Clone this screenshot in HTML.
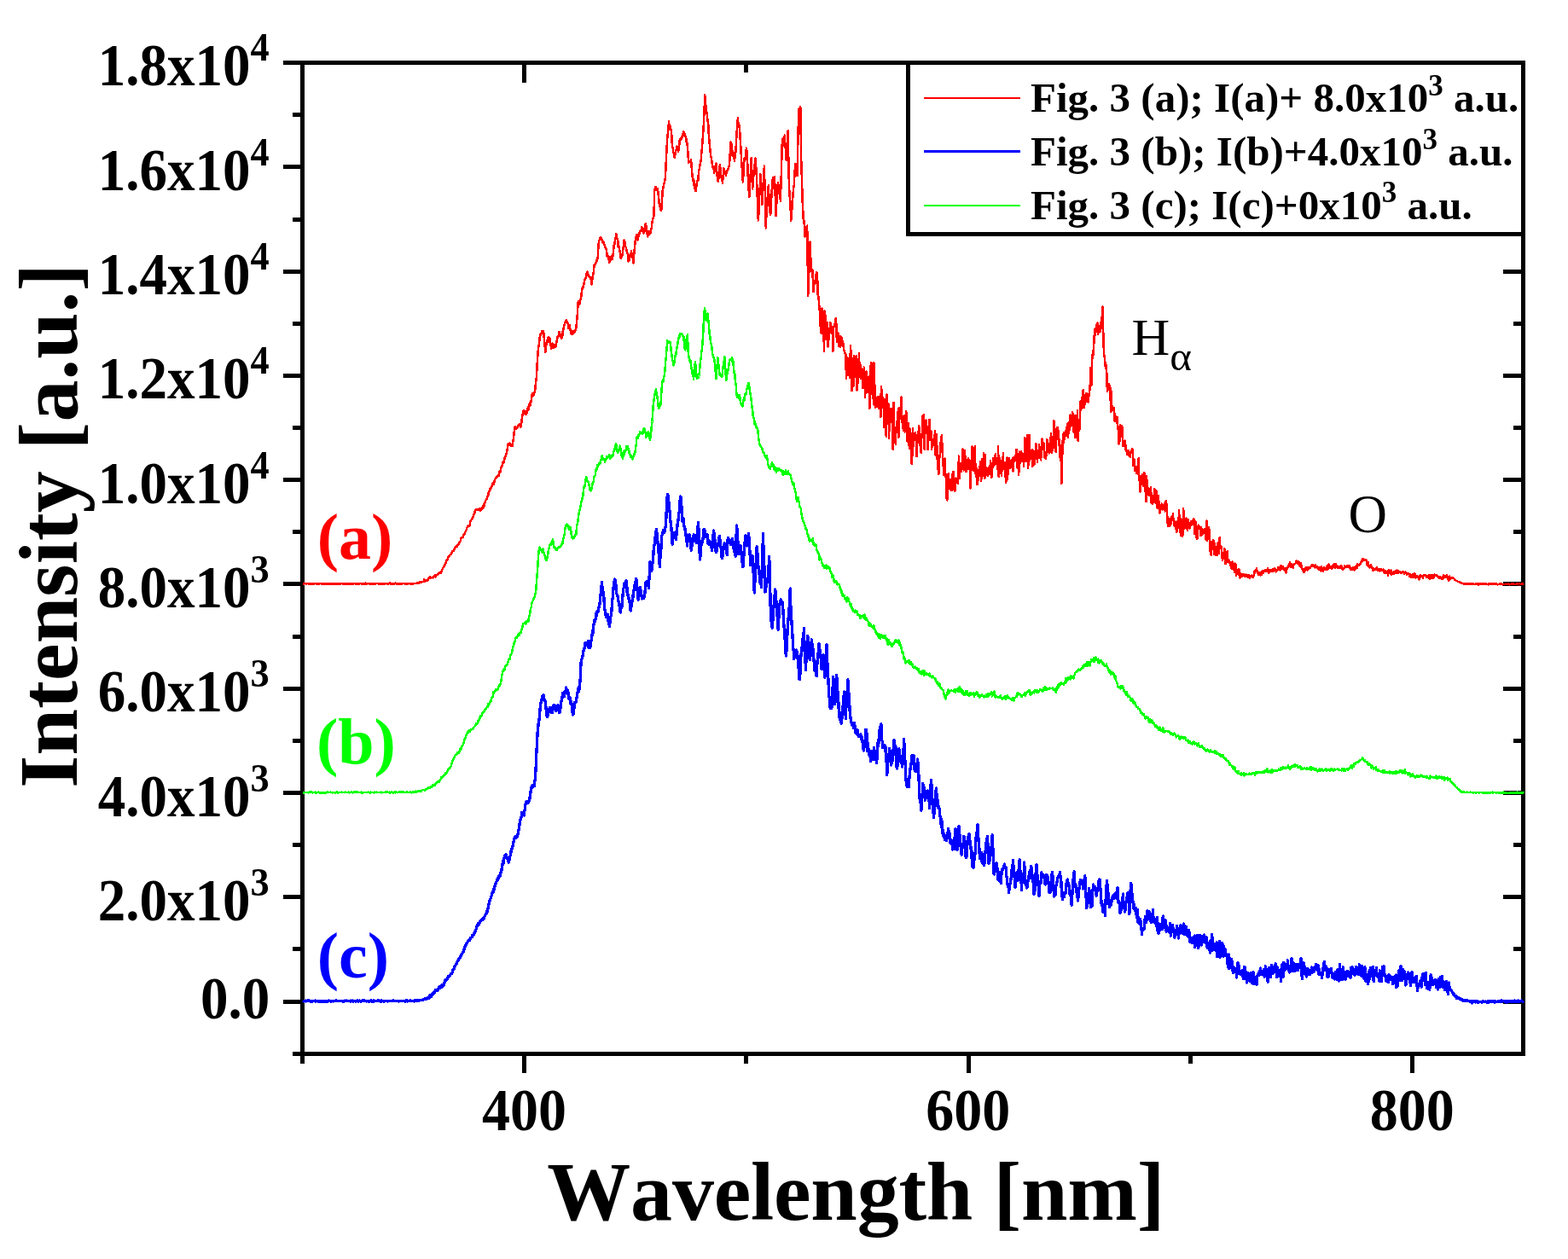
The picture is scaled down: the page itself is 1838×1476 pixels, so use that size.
<!DOCTYPE html>
<html lang="en"><head><meta charset="utf-8"><title>Emission spectra</title>
<style>html,body{margin:0;padding:0;background:#fff;}body{width:1838px;height:1476px;overflow:hidden;}svg{display:block;}text{font-family:"Liberation Serif","DejaVu Serif",serif;font-weight:bold;fill:#000;font-kerning:none;font-variant-ligatures:none;}.r{font-weight:normal;}</style></head><body>
<svg width="1838" height="1476" viewBox="0 0 1838 1476">
<rect x="0" y="0" width="1838" height="1476" fill="#fff"/>
<g fill="#000" shape-rendering="crispEdges">
<rect x="352" y="71" width="1436" height="5"/>
<rect x="352" y="1233" width="1436" height="5"/>
<rect x="352" y="71" width="5" height="1167"/>
<rect x="1783" y="71" width="5" height="1167"/>
<rect x="343" y="1233" width="9" height="5"/>
<rect x="332" y="1172" width="20" height="5"/>
<rect x="1762" y="1172" width="21" height="5"/>
<rect x="343" y="1110" width="9" height="5"/>
<rect x="1774" y="1110" width="9" height="5"/>
<rect x="332" y="1049" width="20" height="5"/>
<rect x="1762" y="1049" width="21" height="5"/>
<rect x="343" y="988" width="9" height="5"/>
<rect x="1774" y="988" width="9" height="5"/>
<rect x="332" y="927" width="20" height="5"/>
<rect x="1762" y="927" width="21" height="5"/>
<rect x="343" y="866" width="9" height="5"/>
<rect x="1774" y="866" width="9" height="5"/>
<rect x="332" y="805" width="20" height="5"/>
<rect x="1762" y="805" width="21" height="5"/>
<rect x="343" y="744" width="9" height="5"/>
<rect x="1774" y="744" width="9" height="5"/>
<rect x="332" y="682" width="20" height="5"/>
<rect x="1762" y="682" width="21" height="5"/>
<rect x="343" y="621" width="9" height="5"/>
<rect x="1774" y="621" width="9" height="5"/>
<rect x="332" y="560" width="20" height="5"/>
<rect x="1762" y="560" width="21" height="5"/>
<rect x="343" y="499" width="9" height="5"/>
<rect x="1774" y="499" width="9" height="5"/>
<rect x="332" y="438" width="20" height="5"/>
<rect x="1762" y="438" width="21" height="5"/>
<rect x="343" y="377" width="9" height="5"/>
<rect x="1774" y="377" width="9" height="5"/>
<rect x="332" y="316" width="20" height="5"/>
<rect x="1762" y="316" width="21" height="5"/>
<rect x="343" y="255" width="9" height="5"/>
<rect x="332" y="193" width="20" height="5"/>
<rect x="343" y="132" width="9" height="5"/>
<rect x="332" y="71" width="20" height="5"/>
<rect x="352" y="1238" width="5" height="9"/>
<rect x="612" y="1238" width="5" height="20"/>
<rect x="612" y="76" width="5" height="21"/>
<rect x="872" y="1238" width="5" height="9"/>
<rect x="872" y="76" width="5" height="9"/>
<rect x="1133" y="1238" width="5" height="20"/>
<rect x="1393" y="1238" width="5" height="9"/>
<rect x="1653" y="1238" width="5" height="20"/>
</g>
<g fill="none" stroke-linejoin="round" stroke-linecap="butt" shape-rendering="crispEdges">
<path d="M355.0,1173.3 355.9,1173.7 356.3,1173.9 356.9,1173.5 357.6,1173.3 358.2,1173.1 358.9,1173.9 359.5,1173.6 360.2,1173.5 360.8,1173.3 361.5,1172.8 362.1,1173.7 362.8,1173.4 363.4,1173.7 364.1,1174.2 364.7,1173.6 365.4,1173.6 366.0,1174.0 366.7,1173.6 367.3,1173.7 368.0,1173.3 368.6,1173.4 369.3,1173.1 369.9,1174.0 370.6,1174.1 371.2,1173.5 371.9,1173.6 372.5,1173.5 373.2,1174.6 373.8,1174.0 374.5,1173.6 375.1,1173.9 375.8,1174.2 376.4,1173.3 377.1,1173.9 377.7,1173.9 378.4,1173.7 379.0,1174.0 379.7,1174.1 380.3,1173.7 381.0,1173.6 381.6,1174.0 382.3,1173.7 382.9,1173.8 383.6,1174.4 384.2,1173.8 384.9,1173.7 385.5,1173.2 386.2,1173.8 386.8,1173.8 387.5,1173.9 388.1,1173.9 388.8,1173.9 389.4,1173.8 390.1,1173.7 390.7,1173.9 391.4,1173.4 392.0,1173.3 392.7,1173.3 393.3,1173.7 394.0,1173.0 394.6,1173.5 395.3,1173.6 395.9,1173.8 396.6,1173.3 397.2,1173.7 397.9,1173.7 398.5,1173.5 399.2,1173.7 399.8,1173.6 400.5,1173.3 401.1,1173.5 401.8,1173.3 402.4,1174.3 403.1,1173.5 403.7,1173.4 404.4,1173.1 405.0,1173.6 405.7,1173.7 406.3,1173.6 407.0,1173.1 407.6,1173.3 408.3,1173.2 408.9,1173.7 409.6,1173.3 410.2,1173.6 410.9,1174.2 411.5,1173.0 412.2,1173.5 412.8,1173.6 413.5,1173.1 414.1,1174.0 414.8,1173.5 415.4,1173.7 416.1,1173.8 416.7,1174.1 417.4,1173.4 418.0,1173.4 418.7,1173.1 419.3,1173.1 420.0,1174.2 420.6,1173.4 421.3,1173.0 421.9,1173.8 422.6,1174.2 423.2,1173.2 423.9,1173.5 424.5,1173.1 425.2,1172.9 425.8,1173.5 426.5,1173.1 427.1,1173.1 427.8,1173.6 428.4,1173.7 429.1,1173.5 429.7,1174.0 430.4,1173.3 431.0,1173.4 431.7,1173.8 432.3,1174.3 433.0,1174.2 433.6,1173.9 434.3,1173.6 434.9,1173.1 435.6,1174.0 436.2,1173.5 436.9,1174.3 437.5,1173.5 438.2,1172.8 438.8,1173.9 439.5,1173.6 440.1,1173.3 440.8,1173.6 441.4,1173.5 442.1,1173.6 442.7,1172.9 443.4,1173.5 444.0,1173.7 444.7,1173.1 445.3,1173.9 446.0,1173.4 446.6,1172.8 447.3,1174.1 447.9,1173.4 448.6,1173.5 449.2,1173.4 449.9,1174.2 450.5,1173.5 451.2,1173.2 451.8,1173.3 452.5,1173.7 453.1,1173.7 453.8,1173.2 454.4,1173.8 455.1,1173.2 455.7,1173.5 456.4,1173.7 457.0,1173.6 457.7,1173.6 458.3,1173.6 459.0,1173.3 459.6,1173.5 460.3,1173.6 460.9,1173.0 461.6,1172.9 462.2,1173.6 462.9,1173.4 463.5,1173.5 464.2,1173.7 464.8,1173.6 465.5,1173.3 466.1,1173.6 466.8,1173.2 467.4,1174.0 468.1,1173.8 468.7,1173.4 469.4,1173.2 470.0,1173.6 470.7,1173.4 471.3,1173.2 472.0,1173.6 472.6,1173.5 473.3,1173.7 473.9,1173.4 474.6,1174.1 475.2,1174.0 475.9,1172.9 476.5,1172.7 477.2,1173.1 477.8,1173.9 478.5,1173.6 479.1,1173.4 479.8,1173.5 480.4,1173.0 481.1,1173.5 481.7,1173.0 482.4,1173.5 483.0,1173.3 483.7,1173.2 484.3,1173.2 485.1,1173.4 485.6,1174.0 486.3,1172.6 486.9,1173.4 487.6,1172.9 488.2,1173.5 488.9,1173.3 489.5,1172.5 490.2,1172.8 490.8,1173.2 491.5,1173.2 492.1,1172.3 493.0,1172.3 493.4,1172.4 494.1,1172.6 494.7,1172.3 495.4,1172.1 496.0,1172.1 496.7,1171.9 497.3,1171.4 498.0,1170.5 498.6,1171.6 499.3,1171.2 499.9,1171.4 500.8,1170.4 501.2,1169.7 501.9,1170.2 502.5,1169.8 503.2,1170.1 503.8,1167.1 504.5,1167.3 505.1,1167.0 505.8,1168.4 506.7,1165.3 507.1,1166.4 507.7,1164.4 508.4,1163.6 509.0,1164.6 509.7,1163.9 510.3,1160.6 511.0,1161.2 511.6,1161.6 512.3,1160.6 512.9,1161.4 513.6,1159.2 514.5,1159.0 514.9,1157.0 515.5,1158.5 516.2,1157.4 516.8,1157.4 517.5,1155.6 518.1,1156.9 518.8,1154.3 519.4,1155.6 520.1,1155.0 520.4,1152.9 520.7,1152.8 521.4,1151.1 522.0,1149.1 522.7,1150.0 523.3,1148.5 524.0,1148.5 524.6,1147.7 525.3,1144.9 525.9,1144.5 526.6,1144.4 527.2,1144.1 527.9,1142.9 528.5,1141.5 529.2,1141.3 529.8,1141.3 530.2,1140.1 530.5,1138.6 531.1,1137.0 531.8,1135.9 532.4,1135.8 533.1,1132.8 533.7,1132.1 534.1,1131.0 535.0,1130.1 535.7,1128.3 536.3,1127.0 537.0,1126.0 537.6,1124.7 538.3,1123.4 539.0,1123.0 539.6,1122.5 540.2,1120.2 540.9,1118.8 541.5,1118.3 542.2,1117.2 542.9,1116.2 543.5,1114.7 544.1,1113.0 544.8,1110.0 545.4,1109.3 546.1,1107.7 546.8,1106.0 547.4,1105.7 548.0,1104.5 548.7,1102.9 549.3,1103.0 550.0,1102.6 550.6,1102.7 551.3,1099.9 551.7,1099.2 552.6,1098.9 553.2,1098.8 553.9,1096.3 554.5,1096.4 555.2,1095.0 555.8,1095.1 556.6,1093.2 557.1,1091.7 557.8,1090.0 558.4,1088.3 559.1,1085.6 559.7,1084.7 560.6,1082.3 561.0,1084.5 561.7,1083.2 562.3,1080.1 563.0,1079.6 563.6,1080.0 564.3,1078.2 564.9,1077.5 565.5,1078.1 566.2,1078.0 566.9,1076.3 567.5,1076.6 568.2,1073.9 568.8,1072.8 569.5,1071.5 570.3,1070.7 570.8,1068.0 571.4,1068.3 572.1,1065.0 572.7,1061.1 573.4,1058.8 574.3,1054.8 574.7,1054.9 575.3,1052.3 576.0,1050.6 576.6,1048.8 577.3,1045.7 578.2,1045.2 578.6,1046.1 579.2,1041.1 579.9,1039.1 580.5,1038.0 581.2,1035.1 582.1,1033.2 582.5,1031.5 583.1,1030.8 583.8,1031.1 584.4,1027.1 585.1,1027.3 586.0,1027.2 586.4,1026.2 587.0,1022.4 588.0,1020.1 588.3,1016.3 589.0,1013.9 589.6,1009.1 590.3,1011.7 590.9,1005.8 591.6,1005.0 592.2,1002.2 592.9,1001.6 593.5,1005.2 594.2,1006.0 594.8,1005.9 595.5,1008.8 596.4,1011.3 596.8,1009.5 597.4,1005.4 598.1,1003.5 598.7,1000.7 599.4,995.0 599.7,995.6 600.0,994.6 600.7,994.3 601.3,990.2 602.0,987.0 602.7,983.4 603.3,982.8 603.9,980.8 604.6,982.3 605.2,980.7 605.9,981.9 606.6,980.2 607.2,976.9 607.8,973.8 608.5,971.1 609.1,966.0 609.5,964.3 610.4,959.1 611.1,958.6 611.5,952.5 612.4,952.6 613.0,954.8 613.7,953.0 614.4,956.0 615.0,949.8 615.6,946.0 616.4,940.9 616.9,939.6 617.6,941.0 618.2,940.0 618.9,941.0 619.5,940.1 620.3,938.9 620.8,936.6 621.5,932.6 622.1,928.1 622.8,924.3 623.2,921.9 624.1,920.6 624.7,923.0 625.4,921.7 626.2,921.7 626.7,917.5 627.3,913.0 628.1,901.4 628.6,887.5 629.1,878.8 630.1,858.6 630.6,854.7 631.2,847.5 632.0,843.6 632.5,838.4 633.2,829.5 634.0,823.9 634.5,822.1 635.1,819.7 635.8,816.4 636.4,820.6 636.9,814.7 637.7,820.2 638.4,820.2 639.0,822.1 639.9,828.4 640.3,832.8 641.0,838.4 641.4,840.7 642.3,837.9 642.9,834.8 643.8,830.7 644.2,830.0 644.9,832.2 645.5,834.3 646.2,829.6 646.7,835.5 647.5,835.3 648.1,831.0 648.8,828.0 649.3,826.2 650.1,831.0 650.7,827.5 651.6,833.6 652.0,831.5 652.7,829.0 653.3,832.1 654.0,826.9 654.6,827.5 655.3,831.9 655.9,835.9 656.5,834.8 657.2,827.7 657.9,821.8 658.5,821.5 659.5,812.8 659.8,814.4 660.5,815.3 661.1,816.8 661.8,810.9 662.4,812.9 663.1,811.4 663.7,806.0 664.4,810.3 665.0,809.2 665.7,809.0 666.3,816.1 667.0,818.7 667.3,819.7 667.6,817.7 668.3,818.3 668.9,825.6 669.7,822.7 670.2,827.2 670.9,835.1 671.6,838.1 672.2,837.2 672.8,831.5 673.5,823.8 674.2,824.4 674.8,823.9 675.4,821.0 676.1,817.6 676.7,813.3 677.1,812.0 677.4,807.2 678.0,807.6 678.7,810.7 679.3,802.9 680.0,799.5 680.6,789.6 681.0,776.9 681.9,772.8 682.6,770.7 683.2,768.6 683.9,762.9 684.5,762.8 685.2,759.4 685.8,754.0 686.5,755.5 686.9,753.4 687.8,753.4 688.4,754.3 689.1,758.1 689.7,751.5 690.4,759.2 691.0,758.6 691.8,759.3 692.3,754.9 693.0,750.9 693.6,749.0 694.3,741.4 694.9,742.6 695.6,732.3 696.2,731.9 696.7,727.8 697.5,728.9 698.2,725.3 698.8,718.9 699.5,721.3 700.1,716.8 700.8,717.8 701.4,715.1 702.1,711.7 702.6,711.4 703.4,704.3 704.0,697.6 704.7,691.0 705.5,682.7 706.0,688.7 706.6,691.8 707.3,694.9 707.9,700.7 708.6,713.3 709.4,716.0 709.9,718.6 710.4,723.6 711.2,721.9 711.8,721.2 712.3,720.4 713.1,728.4 713.8,729.5 714.3,734.8 715.1,728.7 715.7,723.0 716.4,721.3 716.8,717.2 717.7,704.0 718.3,700.2 718.8,692.8 719.6,682.6 720.3,686.3 720.7,679.1 721.6,680.5 722.2,691.8 722.7,695.4 723.5,697.9 724.2,699.2 725.0,705.3 725.5,708.2 726.1,710.3 726.8,717.1 727.6,718.0 728.1,708.9 728.7,712.7 729.4,709.4 729.9,699.3 730.7,690.6 731.5,687.7 732.0,684.0 732.6,685.9 733.3,684.8 733.9,680.6 734.6,683.6 735.2,695.4 735.9,696.9 736.8,701.8 737.2,701.0 737.8,706.3 738.5,703.8 739.1,716.0 739.7,712.5 740.4,710.1 741.1,703.4 741.7,701.8 742.7,692.8 743.0,691.3 743.7,691.6 744.3,684.1 745.0,682.1 745.6,678.5 746.2,680.3 746.9,690.9 747.6,695.5 748.2,703.5 748.9,697.0 749.5,689.2 750.1,688.2 750.8,691.2 751.5,697.4 752.1,699.0 752.5,702.0 752.8,698.5 753.4,701.4 754.1,699.0 754.7,701.5 755.4,697.2 756.0,695.2 756.7,683.6 757.3,686.4 758.0,681.3 758.6,684.8 759.3,685.3 759.9,683.0 760.3,689.3 761.2,674.4 761.9,658.4 762.5,663.7 763.2,662.7 763.8,669.4 764.2,664.8 765.1,659.8 765.8,652.2 766.4,641.1 767.2,638.0 767.7,636.0 768.4,626.3 769.0,622.6 769.5,620.6 770.3,628.2 771.0,635.8 771.7,642.3 772.3,650.9 772.9,657.2 773.4,664.8 774.2,648.1 774.9,643.6 775.6,628.1 776.2,627.4 776.8,623.9 777.5,625.0 777.9,621.1 778.8,624.8 779.4,619.9 780.3,617.0 780.7,610.6 781.4,595.8 781.8,583.6 782.7,579.3 783.0,581.8 783.3,585.4 784.0,588.3 784.8,597.7 785.3,601.5 785.9,610.9 786.7,616.6 787.2,622.8 788.1,638.1 788.5,634.3 789.2,625.9 790.1,625.0 790.5,627.7 791.1,630.2 791.8,629.6 792.6,632.3 793.1,622.9 793.7,620.1 794.4,610.8 795.0,609.9 795.6,603.0 796.3,599.8 797.0,587.4 797.9,582.0 798.3,589.3 798.9,593.7 799.9,607.2 800.2,611.8 800.9,607.7 801.5,614.8 802.4,618.5 802.8,620.9 803.5,620.1 804.1,629.1 804.8,628.8 805.4,639.9 806.1,634.4 806.7,632.7 807.4,628.0 808.3,626.7 808.7,628.0 809.3,635.9 810.3,645.1 810.6,641.6 811.3,638.6 811.9,635.3 812.6,631.8 813.2,626.6 813.9,629.5 814.5,630.7 815.2,628.5 816.1,635.6 816.5,636.4 817.1,627.0 817.8,619.9 818.5,612.6 819.1,623.9 819.7,640.2 820.6,656.0 821.0,651.6 821.7,642.1 822.3,634.9 823.0,634.0 823.6,635.5 824.3,628.6 824.9,620.8 825.3,620.6 826.2,622.6 826.9,627.4 827.5,629.6 828.2,630.0 828.9,626.7 829.5,633.7 830.1,637.3 830.8,633.7 831.4,638.7 831.8,638.8 832.1,634.8 832.7,636.1 833.4,640.4 834.0,641.9 834.7,645.6 835.3,635.4 836.0,628.2 836.7,622.1 837.3,631.4 837.9,632.5 838.6,642.1 839.2,647.2 839.6,647.6 840.5,644.4 841.2,638.2 841.8,637.1 842.5,635.5 843.1,630.0 843.5,628.4 844.4,636.9 845.1,641.8 845.7,652.7 846.5,654.4 847.0,651.8 847.7,643.9 848.3,640.7 849.0,637.3 849.4,636.8 850.3,639.0 850.9,642.6 851.6,647.6 852.4,650.5 852.9,636.0 853.3,630.3 854.2,633.1 854.8,632.6 855.5,634.4 856.3,638.6 856.8,636.3 857.4,635.1 858.1,635.9 858.7,631.2 859.2,639.3 860.0,643.4 860.7,646.5 861.3,641.3 862.2,652.3 862.6,638.4 863.3,623.9 863.7,616.0 864.6,633.1 865.2,636.5 865.7,649.4 866.5,646.1 867.2,642.9 868.0,639.3 868.5,644.6 869.1,650.0 869.8,653.8 870.4,664.2 871.0,664.3 871.7,654.2 872.4,641.6 873.0,637.6 873.9,627.7 874.3,636.0 875.0,632.2 875.9,640.0 876.3,633.2 876.9,628.3 877.4,625.7 878.2,632.4 878.9,645.9 879.8,662.8 880.2,660.1 880.8,660.5 881.5,658.3 882.1,651.6 882.7,655.8 883.4,679.5 884.3,694.9 884.7,685.8 885.4,671.8 886.0,663.8 886.7,647.4 887.2,640.6 888.0,649.5 888.6,660.0 889.6,672.8 889.9,670.5 890.6,671.1 891.2,683.9 891.9,684.2 892.5,688.7 893.2,667.0 893.8,649.8 894.5,625.8 895.1,648.9 895.8,661.2 896.4,680.2 897.0,694.0 897.7,688.8 898.4,687.9 899.0,683.2 899.4,679.4 899.7,678.1 900.3,678.9 901.0,664.8 901.7,652.5 902.3,671.5 902.9,697.7 903.3,716.5 903.6,716.1 904.2,729.2 904.9,729.5 905.2,736.2 905.5,731.1 906.2,724.0 906.8,713.3 907.5,705.1 908.1,698.1 908.8,691.1 909.4,700.2 910.1,705.8 910.7,715.6 911.4,726.8 912.1,738.1 912.7,726.9 913.3,717.0 914.1,707.4 914.6,704.6 915.3,702.9 915.9,707.0 916.6,707.5 917.0,705.3 917.9,714.6 918.5,727.3 919.0,733.9 919.8,741.5 920.5,756.8 921.3,769.0 921.8,764.5 922.4,756.2 923.1,738.6 923.9,726.8 924.4,722.2 925.0,713.8 925.7,706.2 926.2,690.0 927.0,715.5 927.6,721.7 928.4,737.3 928.9,743.4 929.6,757.6 930.2,762.7 930.7,772.7 931.5,768.4 932.2,769.5 932.8,763.4 933.5,762.0 934.1,765.0 934.6,764.5 935.4,776.7 936.1,783.5 936.7,786.5 937.2,796.8 938.0,790.0 938.7,771.6 939.5,762.3 940.0,759.9 940.6,752.4 941.3,747.6 941.9,745.1 942.5,736.6 943.2,765.2 943.9,768.8 944.4,785.3 945.2,771.0 945.8,755.0 946.8,745.4 947.1,751.1 947.8,758.5 948.4,768.9 949.3,773.7 949.7,771.6 950.4,765.3 951.3,749.7 951.7,752.0 952.3,762.8 953.0,760.8 953.6,768.4 954.2,776.4 954.9,786.0 955.6,787.0 956.2,788.0 957.1,792.9 957.5,784.6 958.2,773.5 958.8,771.0 959.5,759.4 960.1,754.4 960.8,760.6 961.4,768.3 962.1,771.2 963.0,784.9 963.4,784.7 964.0,776.7 965.0,767.4 965.3,773.3 966.0,784.2 966.9,794.1 967.3,781.4 967.9,775.4 968.6,769.2 968.9,755.4 969.2,765.8 969.9,777.6 970.5,787.1 971.2,803.8 971.8,816.2 972.5,818.3 973.1,830.2 973.8,826.0 974.4,829.0 974.8,830.5 975.1,825.6 975.7,819.6 976.4,798.9 976.7,793.4 977.0,797.3 977.7,806.2 978.3,815.1 978.7,825.6 979.0,822.7 979.6,799.8 980.3,797.0 980.7,791.5 981.6,809.2 982.2,810.8 982.9,823.9 983.6,841.1 984.2,834.9 984.8,843.4 985.5,842.2 986.1,848.1 986.5,847.8 987.4,836.2 988.1,827.4 988.7,820.8 989.5,811.0 990.0,813.9 990.7,832.4 991.4,842.6 992.0,826.5 992.6,817.0 993.3,809.1 993.8,796.7 994.6,810.6 995.2,813.8 995.9,827.7 996.3,837.0 997.2,842.8 997.8,846.3 998.5,849.7 999.3,848.0 999.8,848.9 1000.4,853.2 1001.1,850.5 1001.7,847.7 1002.4,857.6 1003.0,859.2 1003.7,858.5 1004.3,860.1 1005.0,855.5 1005.6,861.8 1006.3,861.2 1006.9,863.8 1007.6,861.6 1008.2,863.1 1008.9,860.8 1009.4,867.1 1010.2,864.4 1010.8,866.1 1011.5,874.7 1012.3,880.0 1012.8,873.5 1013.4,876.3 1014.1,868.5 1014.7,855.3 1015.3,855.4 1016.0,860.5 1016.7,880.7 1017.3,871.4 1018.2,881.0 1018.6,884.2 1019.3,886.3 1019.9,884.0 1020.6,892.2 1021.2,880.3 1022.1,890.1 1022.5,882.9 1023.2,890.8 1023.8,886.9 1024.7,876.8 1025.1,881.3 1025.8,881.0 1026.4,884.3 1027.4,894.5 1027.7,881.1 1028.4,889.8 1029.0,870.8 1029.9,871.3 1030.3,863.7 1031.0,856.7 1031.6,851.9 1032.3,852.8 1032.9,848.8 1033.6,868.0 1034.2,869.0 1034.8,876.5 1035.5,873.6 1036.2,873.7 1036.8,877.2 1037.8,874.0 1038.1,881.4 1038.8,882.8 1039.7,908.7 1040.1,903.6 1040.7,896.9 1041.4,884.4 1042.0,887.7 1042.7,877.8 1043.3,884.1 1044.0,889.1 1044.6,897.0 1045.3,893.6 1045.6,891.1 1045.9,893.0 1046.6,879.7 1047.2,878.7 1047.9,867.4 1048.6,869.2 1049.2,884.2 1049.8,874.4 1050.5,888.3 1051.1,899.3 1051.5,900.9 1051.8,898.7 1052.4,897.1 1053.1,892.5 1053.7,877.9 1054.4,880.2 1055.0,887.0 1055.7,892.2 1056.3,889.6 1057.0,894.1 1057.4,899.1 1058.3,894.6 1058.9,882.7 1059.7,866.6 1060.2,882.0 1060.9,892.1 1061.5,903.3 1061.9,914.7 1062.2,913.1 1062.8,919.6 1063.5,922.8 1064.1,914.7 1064.8,921.2 1065.2,922.5 1066.1,909.8 1066.7,903.5 1067.4,899.2 1068.1,894.9 1068.7,885.8 1069.3,892.4 1070.0,886.3 1070.6,889.4 1071.1,885.4 1071.9,902.6 1072.6,895.7 1073.2,904.8 1073.6,903.1 1074.5,903.5 1075.2,897.4 1075.6,889.9 1076.5,900.2 1077.1,914.4 1077.5,924.6 1078.4,940.7 1079.1,938.7 1079.9,950.1 1080.4,939.0 1081.0,933.2 1081.8,918.6 1082.3,920.7 1083.0,924.7 1083.6,923.7 1084.3,938.2 1084.8,937.4 1085.6,930.9 1086.2,927.3 1086.9,929.5 1087.7,927.1 1088.2,931.3 1088.8,934.6 1089.7,947.4 1090.1,937.5 1090.8,924.1 1091.6,914.2 1092.1,923.5 1092.7,934.5 1093.4,941.1 1094.0,951.2 1094.6,958.3 1095.3,950.1 1096.0,945.2 1096.6,930.5 1097.5,923.9 1097.9,931.4 1098.6,934.4 1099.2,940.0 1099.9,947.1 1100.5,944.8 1101.2,949.3 1101.8,956.4 1102.4,958.0 1103.1,966.7 1103.8,960.3 1104.4,976.7 1105.1,972.6 1105.7,979.7 1106.4,977.5 1107.3,984.1 1107.7,979.5 1108.3,982.8 1109.0,983.3 1109.6,985.2 1110.3,980.8 1110.9,978.0 1111.6,971.4 1112.2,975.3 1112.9,976.4 1113.5,979.8 1114.2,988.8 1115.1,984.6 1115.5,988.0 1116.1,990.2 1116.8,995.9 1117.4,991.6 1118.1,995.8 1118.7,987.0 1119.4,978.8 1120.0,971.8 1120.7,975.7 1121.3,985.3 1122.0,996.1 1122.6,978.8 1123.3,981.3 1124.0,968.1 1124.6,972.0 1125.2,985.4 1125.9,988.4 1126.5,999.4 1127.2,1002.0 1127.8,995.0 1128.5,993.1 1129.1,992.0 1129.8,980.4 1130.4,983.4 1131.1,985.7 1131.7,1003.6 1132.4,987.6 1132.8,1005.5 1133.7,991.2 1134.3,989.2 1135.0,981.6 1135.7,977.8 1136.3,978.5 1136.9,985.3 1137.6,989.6 1138.2,995.6 1138.7,992.9 1139.5,1015.8 1140.2,1004.9 1141.0,1017.7 1141.5,1016.1 1142.1,1004.3 1142.8,1002.1 1143.5,995.6 1144.1,981.4 1144.7,980.2 1145.4,972.4 1146.1,966.3 1146.7,982.3 1147.3,983.3 1148.0,997.2 1148.4,1006.6 1149.3,1000.0 1149.9,1005.1 1150.8,999.5 1151.2,1011.5 1151.9,1001.2 1152.5,1010.4 1153.3,1014.5 1153.8,1013.0 1154.5,1005.1 1155.1,998.4 1155.8,987.8 1156.4,990.5 1157.3,980.2 1157.7,984.7 1158.4,1001.0 1159.0,1012.4 1159.8,1011.6 1160.3,997.8 1161.0,999.1 1161.6,996.0 1162.3,990.9 1163.1,978.9 1163.6,986.3 1164.2,1005.0 1165.1,1025.0 1165.5,1020.3 1166.2,1021.8 1166.8,1015.3 1167.5,1014.1 1168.0,1011.5 1168.8,1021.1 1169.4,1017.8 1170.0,1031.5 1170.7,1027.9 1171.4,1033.0 1172.0,1023.0 1172.7,1027.2 1173.3,1035.3 1173.9,1025.4 1174.6,1019.2 1175.3,1019.7 1175.9,1017.7 1176.6,1016.8 1177.4,1013.1 1177.9,1017.7 1178.5,1016.2 1179.2,1017.5 1179.8,1026.4 1180.5,1031.7 1181.1,1037.3 1181.8,1037.1 1182.7,1046.8 1183.1,1039.1 1183.7,1037.1 1184.4,1035.9 1185.3,1028.1 1185.7,1026.4 1186.3,1017.6 1187.0,1015.6 1187.6,1008.6 1188.3,1024.5 1188.9,1025.8 1189.6,1034.8 1190.0,1040.8 1190.9,1031.9 1191.5,1033.2 1192.2,1022.1 1192.5,1032.7 1192.9,1032.5 1193.5,1024.8 1194.2,1018.9 1195.1,1008.0 1195.5,1019.4 1196.1,1020.4 1196.8,1024.4 1197.4,1043.6 1197.8,1036.2 1198.7,1028.9 1199.4,1033.6 1200.0,1028.2 1200.3,1019.4 1200.7,1011.0 1201.3,1026.7 1202.0,1036.7 1202.6,1038.1 1203.3,1038.1 1203.9,1041.0 1204.6,1037.3 1205.2,1030.4 1205.9,1027.6 1206.2,1025.6 1207.2,1020.9 1207.8,1029.3 1208.5,1015.6 1209.2,1017.4 1209.8,1025.1 1210.4,1029.8 1211.1,1034.0 1211.7,1045.0 1212.1,1048.3 1213.0,1044.0 1213.7,1024.3 1214.3,1026.4 1215.0,1013.9 1215.6,1021.5 1216.3,1032.7 1216.9,1036.9 1217.6,1041.1 1218.0,1050.3 1218.9,1033.6 1219.5,1034.7 1220.2,1035.5 1220.8,1022.9 1221.3,1024.2 1222.1,1024.5 1222.8,1028.7 1223.4,1029.1 1224.1,1028.3 1224.8,1035.5 1225.4,1037.0 1226.0,1025.5 1226.7,1027.6 1227.2,1025.6 1228.0,1027.5 1228.6,1035.8 1229.3,1034.2 1229.9,1046.3 1230.7,1039.1 1231.2,1046.0 1231.9,1044.4 1232.5,1031.9 1233.2,1023.5 1233.6,1022.4 1234.5,1036.8 1235.1,1038.1 1235.6,1051.0 1236.4,1048.3 1237.1,1049.0 1237.7,1038.9 1238.4,1037.9 1239.0,1034.2 1239.5,1032.2 1240.3,1027.1 1241.0,1027.6 1241.6,1027.5 1242.5,1022.5 1242.9,1027.0 1243.6,1027.6 1244.2,1041.3 1244.9,1048.6 1245.4,1054.5 1246.2,1046.7 1246.8,1048.2 1247.5,1051.3 1248.3,1046.5 1248.8,1047.0 1249.4,1046.5 1250.1,1036.0 1250.7,1033.5 1251.3,1031.0 1252.0,1035.0 1252.7,1037.1 1253.3,1038.1 1254.2,1049.3 1254.6,1044.2 1255.3,1048.3 1256.2,1061.4 1256.6,1050.7 1257.2,1046.0 1257.9,1032.9 1258.5,1027.1 1259.2,1021.7 1259.8,1039.8 1260.5,1036.6 1261.1,1037.9 1261.7,1042.7 1262.4,1048.0 1263.1,1052.1 1263.7,1056.1 1264.0,1050.8 1264.4,1048.3 1265.0,1041.4 1265.7,1037.0 1266.4,1031.6 1267.0,1036.4 1267.6,1036.7 1268.3,1032.4 1268.9,1033.2 1269.6,1042.0 1269.9,1038.5 1270.2,1034.4 1270.9,1033.1 1271.5,1027.2 1271.8,1027.0 1272.2,1035.0 1272.8,1044.6 1273.5,1061.0 1273.8,1064.7 1274.1,1058.5 1274.8,1060.1 1275.4,1058.2 1276.1,1050.5 1276.7,1041.5 1277.4,1046.9 1278.0,1059.4 1278.7,1063.4 1279.3,1052.3 1280.0,1062.1 1280.6,1045.3 1281.3,1041.7 1281.6,1036.9 1282.6,1041.0 1283.2,1039.5 1283.9,1044.0 1284.5,1043.8 1285.2,1050.3 1285.5,1049.0 1286.5,1041.7 1287.1,1040.6 1287.8,1033.2 1288.5,1031.0 1289.1,1031.2 1289.7,1043.3 1290.4,1041.7 1291.0,1059.3 1291.4,1061.2 1292.3,1059.6 1293.0,1069.8 1293.6,1060.8 1294.3,1068.6 1294.9,1065.2 1295.3,1073.5 1296.2,1052.9 1296.9,1045.6 1297.3,1032.6 1298.2,1038.8 1298.8,1045.6 1299.5,1058.2 1300.2,1061.1 1300.8,1063.6 1301.4,1055.4 1302.1,1061.3 1302.7,1058.5 1303.2,1056.2 1304.0,1051.7 1304.7,1050.1 1305.3,1053.7 1306.0,1049.0 1306.7,1049.4 1307.3,1051.5 1307.9,1046.5 1308.6,1051.7 1309.2,1053.6 1310.0,1041.0 1310.5,1053.7 1311.2,1058.9 1311.8,1056.4 1312.5,1062.0 1313.0,1070.8 1313.8,1068.8 1314.4,1059.6 1315.1,1058.6 1315.9,1055.8 1316.4,1048.1 1317.0,1058.7 1317.7,1059.4 1318.3,1068.0 1318.8,1069.0 1319.6,1057.8 1320.3,1055.9 1320.9,1053.3 1321.8,1046.9 1322.2,1052.9 1322.9,1052.9 1323.7,1071.4 1324.2,1068.2 1324.8,1048.7 1325.7,1035.3 1326.1,1037.4 1326.8,1046.8 1327.4,1052.1 1328.1,1058.0 1328.6,1064.5 1329.4,1060.7 1330.0,1065.8 1330.7,1068.2 1331.6,1064.7 1332.0,1072.3 1332.6,1075.2 1333.3,1066.7 1333.9,1081.3 1334.6,1075.7 1335.5,1079.9 1335.9,1083.5 1336.5,1077.5 1337.2,1080.9 1337.8,1086.3 1338.5,1095.3 1339.1,1088.9 1340.0,1089.3 1340.4,1088.4 1341.1,1089.6 1341.7,1080.4 1342.4,1074.9 1343.0,1077.9 1343.7,1081.3 1344.3,1075.6 1345.0,1067.9 1345.6,1077.6 1346.3,1068.3 1346.9,1068.7 1347.6,1073.8 1348.2,1074.3 1348.9,1079.3 1349.5,1081.5 1350.2,1071.5 1350.7,1075.8 1351.5,1066.2 1352.1,1080.7 1352.8,1075.4 1353.4,1080.6 1354.1,1082.2 1354.7,1080.7 1355.4,1080.6 1356.0,1086.2 1356.7,1075.7 1357.1,1091.3 1358.0,1094.0 1358.6,1082.9 1359.3,1090.9 1359.9,1085.7 1360.6,1083.5 1361.2,1085.0 1361.9,1088.1 1362.5,1089.5 1363.2,1074.0 1363.5,1081.0 1363.8,1085.0 1364.5,1087.7 1365.1,1083.2 1365.8,1078.3 1366.4,1081.6 1367.1,1092.2 1367.7,1085.7 1368.6,1090.1 1369.0,1090.8 1369.7,1089.1 1370.3,1093.0 1371.0,1091.4 1371.6,1082.4 1372.3,1097.2 1372.9,1093.9 1373.6,1087.6 1374.2,1084.3 1375.0,1087.5 1375.5,1090.0 1376.2,1092.8 1376.8,1099.4 1377.5,1095.6 1378.1,1093.1 1378.8,1094.3 1379.4,1085.7 1380.1,1088.8 1380.7,1089.4 1381.4,1099.9 1382.0,1094.9 1382.7,1094.8 1383.3,1094.4 1384.0,1085.0 1384.6,1086.4 1385.3,1085.3 1385.9,1094.2 1386.6,1085.9 1387.2,1086.6 1387.8,1083.0 1388.5,1095.4 1389.2,1086.4 1389.8,1088.6 1390.5,1086.7 1391.1,1092.4 1391.8,1097.1 1392.4,1097.1 1393.1,1098.6 1393.7,1090.6 1394.2,1097.3 1395.0,1104.4 1395.7,1100.1 1396.3,1101.8 1397.0,1099.7 1397.6,1105.7 1398.3,1099.4 1398.9,1103.0 1399.6,1103.5 1400.2,1097.0 1400.5,1110.2 1400.9,1103.4 1401.5,1108.9 1402.2,1107.9 1402.8,1097.1 1403.5,1105.4 1404.1,1096.9 1404.8,1111.4 1405.4,1102.9 1406.1,1106.3 1406.9,1096.3 1407.4,1100.9 1408.0,1103.3 1408.7,1107.9 1409.3,1100.3 1410.0,1097.4 1410.8,1101.5 1411.3,1096.0 1411.9,1097.0 1412.6,1102.8 1413.2,1105.8 1413.9,1098.8 1414.5,1103.2 1415.2,1111.2 1415.9,1111.0 1416.5,1105.7 1417.1,1110.2 1417.8,1111.3 1418.4,1117.0 1419.1,1102.1 1419.7,1114.7 1420.4,1095.4 1421.0,1099.2 1421.7,1114.0 1422.3,1106.2 1423.0,1106.6 1423.6,1107.0 1424.3,1113.9 1424.9,1108.8 1425.6,1114.7 1426.2,1104.6 1426.9,1121.9 1427.5,1117.6 1428.2,1114.5 1428.7,1113.6 1429.5,1103.8 1430.1,1122.5 1430.8,1115.3 1431.4,1110.3 1432.1,1120.2 1432.7,1105.3 1433.4,1108.4 1434.0,1121.3 1434.7,1109.5 1435.3,1116.4 1436.0,1117.7 1436.3,1113.6 1437.3,1119.4 1437.9,1119.3 1438.6,1125.1 1439.2,1130.8 1439.9,1124.8 1440.2,1135.5 1440.5,1118.9 1441.2,1133.3 1441.8,1123.3 1442.5,1127.8 1443.1,1134.6 1443.8,1124.3 1444.4,1138.0 1445.3,1132.8 1445.7,1140.5 1446.4,1136.1 1447.0,1134.3 1447.7,1136.3 1448.3,1136.7 1449.0,1138.0 1449.6,1146.1 1450.4,1134.2 1450.9,1128.5 1451.6,1134.7 1452.2,1132.4 1452.9,1141.9 1453.5,1137.9 1454.2,1142.8 1454.8,1141.7 1455.5,1142.0 1456.1,1137.7 1456.8,1143.3 1457.4,1147.5 1458.1,1142.4 1458.7,1133.2 1459.4,1133.9 1460.0,1145.3 1460.7,1139.0 1461.3,1151.9 1462.0,1150.4 1462.6,1140.8 1463.3,1141.0 1463.9,1146.5 1464.6,1149.3 1465.2,1150.2 1465.8,1145.1 1466.5,1140.8 1467.2,1150.6 1467.8,1152.7 1468.5,1147.3 1469.1,1139.8 1469.8,1153.7 1470.4,1146.4 1471.1,1145.7 1471.7,1151.7 1472.1,1149.8 1473.0,1154.1 1473.7,1144.2 1474.3,1143.8 1475.0,1142.2 1475.6,1140.3 1476.3,1143.3 1476.9,1138.6 1477.6,1135.1 1478.2,1139.7 1478.5,1139.5 1478.9,1142.8 1479.5,1139.4 1480.2,1141.7 1480.8,1142.1 1481.5,1136.4 1482.1,1145.2 1482.8,1139.9 1483.4,1132.8 1484.1,1141.9 1484.7,1137.3 1485.4,1139.2 1486.2,1151.4 1486.7,1138.6 1487.3,1134.2 1488.0,1135.7 1488.6,1139.3 1489.3,1145.4 1489.9,1140.4 1490.6,1131.7 1491.2,1138.7 1491.9,1141.5 1492.5,1140.4 1493.2,1133.5 1493.9,1136.7 1494.5,1137.0 1495.1,1130.0 1495.8,1134.1 1496.4,1145.7 1497.1,1133.4 1497.7,1137.9 1498.4,1144.7 1499.0,1137.3 1499.7,1141.7 1500.3,1137.3 1501.0,1136.4 1501.6,1150.5 1502.3,1132.3 1502.9,1130.7 1503.6,1139.2 1504.1,1145.7 1504.9,1128.3 1505.5,1131.6 1506.2,1136.8 1506.8,1136.9 1507.5,1135.4 1508.1,1132.7 1508.8,1135.2 1509.4,1125.8 1510.1,1137.1 1510.7,1132.6 1511.4,1140.0 1511.8,1139.6 1512.7,1132.9 1513.3,1138.8 1514.0,1123.4 1514.6,1133.5 1515.3,1138.0 1515.9,1135.0 1516.6,1129.1 1517.2,1134.8 1517.9,1138.7 1518.5,1132.1 1519.2,1130.9 1519.5,1132.8 1519.8,1130.9 1520.5,1133.6 1521.1,1137.9 1521.8,1134.6 1522.4,1130.3 1523.1,1133.9 1523.7,1134.3 1524.6,1127.9 1525.0,1123.9 1525.7,1132.4 1526.3,1147.6 1527.0,1133.3 1527.6,1131.7 1528.3,1128.7 1528.9,1141.3 1529.7,1133.3 1530.2,1135.3 1530.9,1142.2 1531.5,1145.0 1532.2,1140.7 1532.8,1135.4 1533.5,1138.1 1534.1,1142.6 1534.8,1140.9 1535.4,1142.6 1536.1,1138.7 1536.7,1139.5 1537.4,1134.0 1538.0,1140.0 1538.7,1134.6 1539.3,1134.4 1540.0,1139.1 1540.6,1134.9 1541.3,1133.5 1541.9,1135.3 1542.5,1130.3 1543.2,1136.4 1543.9,1132.5 1544.5,1137.3 1545.2,1131.7 1545.8,1142.3 1546.5,1136.7 1547.1,1142.0 1547.8,1142.5 1548.4,1142.6 1548.9,1141.2 1549.7,1146.4 1550.4,1135.6 1551.0,1138.9 1551.7,1130.1 1552.3,1127.2 1553.0,1132.4 1553.6,1137.1 1554.0,1132.4 1554.9,1134.0 1555.6,1144.3 1556.2,1138.9 1556.9,1145.7 1557.5,1142.7 1558.2,1136.4 1558.8,1138.2 1559.5,1136.2 1560.4,1135.5 1560.8,1138.6 1561.4,1143.2 1562.1,1146.9 1562.7,1143.7 1563.4,1141.5 1564.0,1141.5 1564.7,1148.1 1565.3,1139.6 1566.0,1141.3 1566.6,1147.9 1567.3,1140.7 1568.0,1136.6 1568.6,1136.6 1569.2,1150.0 1569.9,1142.3 1570.5,1130.6 1571.2,1138.8 1571.8,1148.1 1572.5,1148.0 1573.2,1147.4 1573.8,1148.6 1574.4,1133.9 1575.1,1145.5 1575.7,1140.5 1576.4,1140.1 1577.0,1148.7 1577.7,1144.5 1578.3,1139.1 1579.0,1143.0 1579.6,1144.2 1580.3,1138.9 1580.9,1143.2 1581.6,1143.3 1582.2,1142.3 1582.9,1146.5 1583.5,1134.5 1584.2,1142.1 1584.7,1133.9 1585.5,1134.4 1586.1,1137.7 1586.8,1137.0 1587.4,1140.8 1588.1,1143.6 1588.7,1138.1 1589.4,1133.3 1590.0,1139.4 1590.7,1137.2 1591.1,1135.4 1592.0,1142.6 1592.6,1142.4 1593.3,1130.8 1593.9,1139.3 1594.6,1132.2 1595.2,1132.3 1595.9,1144.5 1596.5,1132.5 1597.4,1136.8 1597.8,1134.4 1598.5,1143.5 1599.1,1147.7 1599.8,1133.8 1600.4,1139.7 1601.1,1150.6 1601.7,1150.6 1602.4,1145.6 1603.0,1142.7 1603.8,1153.8 1604.3,1139.4 1605.0,1148.1 1605.6,1144.9 1606.3,1134.2 1606.9,1141.8 1607.6,1143.9 1608.2,1139.9 1608.9,1145.3 1609.5,1133.8 1610.2,1150.7 1610.8,1145.2 1611.5,1140.2 1612.1,1143.5 1612.8,1140.1 1613.4,1134.4 1614.1,1144.8 1614.7,1141.5 1615.4,1143.3 1616.0,1145.7 1616.6,1150.0 1617.3,1137.9 1618.0,1150.8 1618.6,1140.1 1619.3,1150.4 1619.9,1140.0 1620.6,1133.6 1621.2,1140.5 1621.9,1132.6 1622.5,1142.2 1623.0,1144.5 1623.8,1142.6 1624.5,1145.7 1625.1,1150.4 1625.8,1149.7 1626.4,1144.9 1627.1,1151.9 1627.7,1142.8 1628.4,1146.0 1629.0,1144.0 1629.4,1146.0 1630.3,1148.0 1631.0,1146.6 1631.6,1148.5 1632.3,1145.9 1632.9,1153.8 1633.6,1148.6 1634.2,1145.5 1634.9,1149.8 1635.5,1144.0 1635.8,1146.2 1636.2,1143.0 1636.8,1157.9 1637.5,1148.2 1638.1,1156.3 1638.8,1145.3 1639.4,1148.4 1640.1,1137.6 1640.7,1147.6 1641.4,1149.8 1642.0,1132.6 1642.7,1145.3 1643.5,1149.7 1644.0,1137.8 1644.6,1136.3 1645.3,1147.6 1645.9,1142.2 1646.6,1139.0 1647.2,1146.4 1647.9,1155.0 1648.5,1150.7 1649.2,1147.9 1649.9,1142.1 1650.5,1140.1 1651.1,1142.9 1651.8,1148.1 1652.4,1141.8 1653.1,1152.7 1653.7,1155.4 1654.4,1141.2 1655.0,1140.0 1655.7,1147.8 1656.3,1146.8 1657.0,1148.4 1657.6,1151.8 1658.3,1150.3 1658.9,1146.0 1659.6,1150.6 1660.2,1144.2 1660.9,1152.2 1661.5,1161.5 1662.2,1156.8 1662.7,1155.7 1663.5,1155.2 1664.1,1152.3 1664.8,1149.6 1665.4,1151.3 1666.1,1157.1 1666.7,1152.5 1667.4,1142.1 1667.8,1149.7 1668.7,1141.4 1669.3,1149.8 1670.0,1145.7 1670.6,1154.5 1671.3,1140.4 1671.9,1150.4 1672.6,1158.8 1673.2,1155.7 1673.9,1155.1 1674.2,1159.3 1674.5,1152.1 1675.2,1152.7 1675.8,1160.1 1676.5,1146.9 1677.1,1142.9 1677.8,1150.3 1678.4,1146.3 1679.3,1149.3 1679.7,1154.6 1680.4,1154.0 1681.0,1151.2 1681.7,1150.2 1682.3,1148.5 1683.0,1151.0 1683.6,1157.8 1684.4,1156.9 1684.9,1151.8 1685.6,1160.1 1686.2,1147.6 1686.9,1155.4 1687.5,1157.8 1688.2,1145.5 1688.8,1152.8 1689.5,1147.1 1690.1,1144.3 1690.8,1157.2 1691.4,1151.6 1692.1,1150.5 1692.7,1155.9 1693.4,1160.3 1694.0,1154.8 1694.7,1152.0 1695.3,1150.4 1695.9,1151.5 1696.6,1153.0 1697.3,1165.7 1697.9,1157.0 1698.5,1152.0 1699.2,1159.7 1699.9,1160.2 1700.5,1160.7 1701.2,1161.4 1701.8,1162.1 1702.5,1163.4 1703.1,1163.9 1703.6,1165.5 1704.4,1165.2 1705.1,1167.1 1705.7,1167.1 1706.4,1168.6 1707.0,1168.1 1707.7,1170.6 1708.3,1170.3 1708.7,1169.8 1709.6,1170.7 1710.3,1169.7 1710.9,1171.3 1711.6,1170.4 1712.2,1171.3 1712.9,1172.1 1713.5,1171.5 1714.2,1171.7 1714.8,1173.2 1715.5,1172.9 1716.4,1172.8 1716.8,1173.2 1717.4,1173.0 1718.1,1173.7 1718.7,1172.6 1719.4,1172.7 1720.0,1173.2 1720.7,1173.3 1721.3,1173.7 1722.0,1173.8 1722.6,1174.2 1723.3,1173.3 1724.0,1174.6 1724.6,1174.3 1725.2,1175.9 1725.9,1173.8 1726.5,1173.7 1727.2,1173.9 1727.8,1173.6 1728.5,1174.7 1729.1,1174.1 1729.8,1175.0 1730.4,1173.9 1731.1,1173.5 1731.7,1173.4 1732.4,1175.6 1733.0,1174.3 1733.7,1174.7 1734.3,1174.4 1735.0,1174.4 1735.6,1174.6 1736.3,1175.0 1736.9,1175.2 1737.6,1174.2 1738.2,1173.6 1738.9,1174.8 1739.5,1174.0 1740.2,1174.2 1740.8,1174.2 1741.5,1174.1 1742.1,1174.9 1742.8,1174.7 1743.4,1175.2 1744.1,1173.2 1744.7,1175.1 1745.4,1174.7 1746.0,1174.9 1746.7,1174.1 1747.3,1173.6 1748.0,1174.0 1748.6,1174.6 1749.3,1174.3 1749.9,1174.6 1750.6,1173.6 1751.2,1173.4 1751.9,1175.5 1752.5,1174.6 1753.2,1174.1 1753.8,1174.4 1754.7,1174.2 1755.1,1174.4 1755.8,1174.7 1756.4,1173.5 1757.1,1174.4 1757.7,1174.4 1758.4,1174.6 1759.0,1174.8 1759.7,1172.9 1760.3,1173.7 1761.0,1174.3 1761.6,1174.0 1762.3,1173.4 1762.9,1173.9 1763.6,1173.9 1764.2,1174.2 1764.9,1173.9 1765.5,1174.4 1766.2,1175.2 1766.8,1173.6 1767.5,1173.6 1768.1,1174.3 1768.8,1174.8 1769.4,1173.6 1770.1,1174.6 1770.7,1173.6 1771.4,1173.7 1772.0,1174.5 1772.7,1174.5 1773.3,1174.0 1774.0,1174.4 1774.6,1174.3 1775.3,1173.8 1775.9,1173.1 1776.6,1173.3 1777.2,1173.7 1777.9,1174.6 1778.5,1173.6 1779.2,1173.8 1779.8,1173.1 1780.5,1174.4 1781.1,1173.6 1781.8,1173.3 1782.4,1173.4 1783.1,1173.7 1783.7,1173.0 1784.4,1173.9 1785.0,1174.6 1785.7,1173.6 1786.0,1173.2" stroke="#00f" stroke-width="3.33"/>
<path d="M355.0,929.2 355.9,929.0 356.3,929.8 356.9,929.2 357.6,929.1 358.2,929.2 358.9,928.9 359.5,928.8 360.2,929.2 360.8,928.9 361.5,929.3 362.1,929.0 362.8,928.5 363.4,928.6 364.1,928.8 364.7,928.4 365.4,929.0 366.0,928.9 366.7,929.3 367.3,928.8 368.0,928.9 368.6,929.2 369.3,929.3 369.9,928.7 370.6,929.5 371.2,928.8 371.9,929.4 372.5,928.9 373.2,928.9 373.8,928.6 374.5,929.0 375.1,929.8 375.8,928.8 376.4,929.5 377.1,929.4 377.7,928.9 378.4,929.4 379.0,929.4 379.7,928.9 380.3,928.8 381.0,929.4 381.6,929.1 382.3,929.7 382.9,929.1 383.6,928.6 384.2,929.0 384.9,928.6 385.5,929.2 386.2,929.2 386.8,928.9 387.5,928.7 388.1,929.3 388.8,928.9 389.4,929.4 390.1,928.7 390.7,928.9 391.4,928.8 392.0,928.7 392.7,929.8 393.3,929.5 394.0,928.8 394.6,929.2 395.3,928.4 395.9,929.4 396.6,929.3 397.2,928.9 397.9,928.9 398.5,929.1 399.2,929.1 399.8,928.9 400.5,928.7 401.1,928.9 401.8,928.8 402.4,929.2 403.1,929.0 403.7,929.1 404.4,928.5 405.0,928.9 405.7,928.9 406.3,928.8 407.0,928.9 407.6,928.9 408.3,928.5 408.9,929.3 409.6,929.3 410.2,928.8 410.9,929.2 411.5,928.7 412.2,928.6 412.8,928.9 413.5,929.5 414.1,928.9 414.8,928.5 415.4,929.0 416.1,928.8 416.7,928.7 417.4,929.1 418.0,928.4 418.7,928.4 419.3,928.5 420.0,929.3 420.6,929.0 421.3,928.8 421.9,928.8 422.6,929.2 423.2,929.4 423.9,928.7 424.5,929.0 425.2,929.7 425.8,929.2 426.5,928.9 427.1,929.1 427.8,929.0 428.4,929.2 429.1,929.1 429.7,928.8 430.4,928.9 431.0,929.1 431.7,928.7 432.3,929.0 433.0,928.7 433.6,929.3 434.3,929.4 434.9,928.7 435.6,929.2 436.2,929.0 436.9,929.0 437.5,928.9 438.2,929.0 438.8,929.3 439.5,928.6 440.1,929.3 440.8,928.9 441.4,928.6 442.1,928.9 442.7,929.1 443.4,928.9 444.0,929.0 444.7,928.8 445.3,928.8 446.0,929.3 446.6,928.6 447.3,929.3 447.9,929.0 448.6,928.9 449.2,928.9 449.9,928.8 450.5,928.9 451.2,928.9 451.8,928.9 452.5,928.3 453.1,928.3 453.8,929.0 454.4,928.7 455.1,928.8 455.7,928.9 456.4,928.6 457.0,929.4 457.7,928.9 458.3,928.9 459.0,928.6 459.6,929.2 460.3,929.2 460.9,929.4 461.6,929.2 462.2,928.7 462.9,928.5 463.5,929.3 464.2,928.7 464.8,928.9 465.5,928.9 466.1,929.1 466.8,929.1 467.4,928.6 468.1,928.7 468.7,928.4 469.4,929.1 470.0,928.9 470.7,928.4 471.3,929.2 472.0,928.9 472.6,928.6 473.3,928.8 473.9,928.7 474.6,928.9 475.2,929.0 475.9,928.7 476.5,929.0 477.2,928.1 477.8,928.8 478.5,929.1 479.1,929.2 479.8,929.2 480.4,928.6 481.1,928.4 481.7,928.8 482.4,929.6 483.0,929.0 483.7,928.7 484.3,928.4 485.1,928.9 485.6,928.7 486.3,928.8 486.9,928.6 487.6,927.7 488.2,928.2 488.9,928.4 489.5,927.8 490.2,927.5 490.8,927.4 491.5,927.2 492.1,928.2 493.0,927.5 493.4,927.0 494.1,927.4 494.7,926.4 495.4,926.2 496.0,925.8 496.7,926.0 497.3,926.4 498.0,927.1 498.9,925.6 499.3,925.1 499.9,925.0 500.6,924.4 501.2,924.6 501.9,923.4 502.5,923.9 503.2,923.8 503.8,923.8 504.5,922.3 505.1,922.9 505.8,922.5 506.7,921.6 507.1,920.1 507.7,920.6 508.4,921.0 509.0,919.7 509.7,921.0 510.3,919.2 511.0,917.7 511.6,917.6 512.3,917.5 512.9,916.9 513.6,915.9 514.2,915.8 514.9,916.8 515.5,915.1 516.5,913.7 516.8,912.9 517.5,911.2 518.1,911.8 518.8,910.6 519.4,910.1 520.1,909.0 520.7,909.2 521.4,908.7 522.0,906.6 522.4,906.4 522.7,906.5 523.3,906.4 524.0,904.9 524.6,904.1 525.3,901.9 525.9,901.6 526.6,901.5 527.2,900.5 527.9,899.4 528.2,899.1 528.5,898.7 529.2,896.5 529.8,894.2 530.5,892.0 531.1,891.5 531.8,889.6 532.4,887.9 533.1,886.5 533.7,885.2 534.4,885.0 535.0,885.1 535.7,883.5 536.3,882.1 537.0,882.7 537.6,883.2 538.0,882.1 538.9,880.3 539.6,877.8 540.2,878.7 540.9,875.3 541.5,874.8 542.2,873.8 542.9,873.0 543.5,871.0 544.1,868.6 544.8,866.2 545.4,865.2 546.1,862.7 546.7,861.3 547.4,860.0 547.8,859.1 548.7,857.4 549.3,858.7 550.0,855.8 550.6,858.1 551.3,855.8 551.9,855.6 552.6,855.0 553.2,855.1 553.9,854.4 554.7,853.8 555.2,852.8 555.8,852.1 556.5,851.7 557.1,850.5 557.8,849.6 558.4,848.3 559.1,848.6 559.6,848.1 560.4,845.3 561.0,846.1 561.7,843.7 562.3,842.6 563.0,839.4 563.6,840.5 564.3,839.8 564.9,839.2 565.5,836.0 566.2,835.1 566.9,835.0 567.5,833.9 568.2,831.8 568.8,831.7 569.5,831.7 570.1,830.4 570.8,828.9 571.4,829.1 572.1,825.6 572.7,826.7 573.3,825.2 574.0,823.3 574.7,822.9 575.3,822.3 576.0,819.4 576.6,817.5 577.3,817.5 578.2,814.0 578.6,811.0 579.2,811.7 579.9,810.8 580.5,809.9 581.2,808.2 581.8,809.5 582.5,808.2 583.1,808.9 584.1,805.8 584.4,805.3 585.1,803.1 585.7,803.6 586.4,802.5 587.0,800.6 587.7,797.0 588.3,791.7 589.0,789.2 589.6,786.5 590.3,785.5 590.9,784.6 591.6,785.6 592.2,781.5 592.9,779.9 593.5,779.9 594.2,779.5 594.8,777.6 595.5,776.3 596.1,773.6 596.8,772.7 597.4,773.1 597.8,771.2 598.1,769.4 598.7,767.5 599.4,766.9 600.0,765.1 600.7,761.5 601.3,758.1 602.0,758.3 602.6,753.8 603.3,752.3 603.9,750.4 604.6,747.6 605.2,746.9 605.9,748.0 606.5,746.1 607.2,743.7 607.8,743.9 608.5,745.1 609.1,743.0 609.8,741.5 610.5,742.1 611.1,740.1 611.7,737.3 612.4,735.4 613.0,732.1 613.4,731.1 614.3,731.2 615.0,729.7 615.6,731.2 616.3,728.6 616.9,731.4 617.6,729.0 618.2,729.0 618.9,727.1 619.3,728.3 620.2,722.8 620.8,720.9 621.5,717.2 622.1,713.1 622.8,712.4 623.2,708.5 624.1,705.6 624.7,703.9 625.4,702.8 626.0,700.7 626.7,699.7 627.3,696.4 628.1,694.8 628.6,687.0 629.3,677.7 630.1,667.6 630.6,659.9 631.2,650.7 632.0,642.5 632.5,641.5 633.2,643.9 633.8,644.4 634.5,644.9 635.1,644.6 635.8,647.8 636.4,643.6 636.9,646.9 637.7,648.1 638.4,650.8 639.0,651.5 639.7,655.7 640.3,657.0 640.9,657.2 641.6,653.0 642.3,649.9 642.9,644.9 643.8,642.2 644.2,640.4 644.9,637.7 645.5,639.2 646.2,636.9 646.8,634.6 647.7,633.8 648.1,632.6 648.8,638.8 649.4,642.1 650.1,641.2 650.7,641.9 651.6,644.3 652.0,643.3 652.7,644.9 653.3,643.1 654.0,643.3 654.6,641.4 655.5,641.8 655.9,641.2 656.6,641.3 657.2,640.5 657.9,640.0 658.5,637.6 659.5,637.8 659.8,633.8 660.5,631.5 661.1,628.8 661.8,626.0 662.4,619.3 663.4,615.6 663.7,615.7 664.4,614.8 665.0,616.7 665.7,617.1 666.3,616.5 667.0,620.9 667.6,617.5 668.3,618.6 668.9,618.5 669.6,626.1 670.2,628.3 670.9,631.1 671.2,630.2 671.5,631.6 672.2,629.5 672.8,630.5 673.5,628.7 674.1,626.9 674.8,626.0 675.1,627.3 675.4,626.1 676.1,616.5 676.7,614.2 677.4,611.6 678.0,605.2 678.7,601.9 679.1,598.5 680.0,597.4 680.6,592.7 681.3,588.1 681.9,587.9 682.6,583.5 683.2,582.3 683.9,575.5 684.5,570.6 684.9,572.1 685.8,568.5 686.5,563.1 687.1,559.1 687.9,561.7 688.4,563.4 689.1,563.7 689.7,566.1 690.4,569.0 691.0,568.1 691.7,574.6 692.3,571.9 692.8,575.4 693.6,571.9 694.3,568.4 694.9,565.3 695.6,565.6 696.2,558.6 696.9,558.8 697.7,557.2 698.2,553.2 698.8,550.3 699.5,550.7 700.1,545.1 700.8,547.2 701.4,545.0 702.1,544.1 702.7,542.5 703.4,543.7 704.0,541.2 704.5,539.1 705.3,535.1 706.0,534.0 706.6,539.2 707.3,537.4 708.2,539.2 708.6,539.0 709.2,541.5 709.9,538.9 710.5,538.1 711.2,535.0 711.8,537.1 712.5,536.1 713.1,535.7 713.8,534.7 714.4,533.3 715.1,537.7 715.7,534.0 716.4,536.4 717.0,536.2 717.7,535.4 718.0,535.2 718.3,535.0 719.0,531.0 719.6,529.1 720.3,527.4 720.9,524.8 721.6,522.1 722.2,520.4 722.9,526.8 723.5,527.0 723.9,531.1 724.8,530.3 725.5,527.4 726.1,526.1 726.8,522.7 727.4,526.4 728.1,528.1 728.7,534.8 729.4,532.4 729.8,537.8 730.7,533.3 731.3,528.6 732.0,533.0 732.7,528.0 733.3,528.0 733.9,528.2 734.6,522.9 735.2,523.7 736.1,523.4 736.5,527.5 737.2,527.9 737.8,531.9 738.6,532.7 739.1,535.7 739.8,534.2 740.4,536.0 741.1,537.6 741.5,538.7 742.4,534.6 743.0,534.7 743.7,531.8 744.5,530.7 745.0,525.3 745.6,523.0 746.4,513.7 746.9,511.8 747.6,514.2 748.2,509.7 748.9,510.6 749.4,509.2 750.2,506.0 750.8,508.2 751.5,507.9 752.1,508.4 752.8,506.3 753.3,508.8 754.1,506.1 754.7,501.8 755.2,501.8 756.0,506.6 756.7,507.1 757.2,512.5 758.0,512.4 758.6,510.9 759.3,506.6 760.1,506.0 760.6,508.8 761.2,512.3 762.1,516.1 762.5,511.3 763.2,506.3 764.1,496.3 764.5,494.5 765.1,483.5 766.0,472.6 766.4,469.9 767.1,464.0 767.7,461.8 768.4,458.6 769.0,456.1 769.7,463.0 770.3,464.6 771.0,469.5 771.9,477.8 772.3,478.6 772.9,477.7 773.6,476.4 774.4,474.4 774.9,468.0 775.5,457.3 776.4,447.3 776.8,448.4 777.5,446.7 778.1,441.6 778.7,440.5 779.4,435.2 780.1,424.8 780.7,419.4 781.4,410.7 782.3,399.2 782.7,401.9 783.3,400.7 784.0,400.4 784.6,400.9 785.3,401.6 785.6,400.8 785.9,402.0 786.6,410.8 787.2,414.8 787.6,418.7 787.9,419.0 788.5,423.4 789.2,424.1 789.5,428.4 789.8,426.2 790.5,425.4 791.1,419.3 791.8,416.2 792.5,415.1 793.1,407.5 793.7,407.8 794.4,402.7 795.0,398.2 795.4,397.0 795.7,395.8 796.3,393.5 797.0,394.8 797.6,390.9 798.3,391.1 798.9,391.5 799.6,391.5 800.2,392.5 800.9,394.9 801.3,394.7 802.2,404.5 802.8,408.9 803.2,410.3 804.1,405.8 804.8,396.0 805.4,397.9 805.8,391.9 806.1,396.9 806.7,412.8 807.1,417.1 808.0,420.2 808.7,424.1 809.3,422.4 810.1,428.1 810.6,432.6 811.3,433.5 811.9,440.5 812.6,440.2 813.0,445.0 813.9,435.8 814.5,428.8 815.0,424.1 815.8,431.8 816.5,441.9 816.9,443.9 817.8,443.2 818.4,443.1 819.1,441.4 819.5,440.5 820.4,430.6 821.0,423.6 821.8,418.6 822.3,413.0 823.0,408.5 823.8,397.3 824.3,388.7 824.9,376.4 825.4,367.1 826.1,361.3 826.9,368.7 827.7,376.2 828.2,372.1 828.8,368.9 829.3,367.7 830.1,374.5 830.8,378.9 831.6,391.3 832.1,391.8 832.7,398.4 833.4,402.7 834.0,404.2 834.6,409.1 835.3,415.2 836.0,417.4 836.6,419.9 837.5,421.8 837.9,426.0 838.6,433.9 839.5,444.2 839.9,436.4 840.5,430.5 841.4,419.4 841.8,424.0 842.5,429.2 843.4,437.5 843.8,439.7 844.4,438.9 845.1,440.9 845.7,440.4 846.3,441.6 847.0,435.6 847.7,429.8 848.3,427.9 849.3,418.4 849.6,425.3 850.3,432.8 851.2,446.3 851.6,441.0 852.2,439.7 852.9,435.9 853.5,434.2 854.2,429.6 855.1,422.7 855.5,421.8 856.1,421.1 856.8,421.8 857.4,421.4 858.1,419.0 858.7,424.5 859.4,424.0 860.0,431.9 860.7,437.4 861.0,436.2 861.3,438.6 862.0,448.2 862.6,449.6 863.3,460.9 863.9,464.6 864.6,465.9 865.2,462.8 865.9,466.6 866.5,463.9 866.9,463.1 867.2,464.9 867.8,469.9 868.5,473.0 869.1,473.8 869.8,476.1 870.4,476.4 871.1,471.8 871.7,468.2 872.4,469.7 873.0,461.7 873.7,461.9 874.3,462.3 875.0,458.3 875.6,455.9 876.3,454.9 876.9,449.7 877.7,448.9 878.2,452.7 878.9,458.4 879.5,461.7 880.2,465.2 880.6,468.5 881.5,477.9 882.1,479.7 882.6,487.2 883.4,490.0 884.1,491.7 884.7,498.2 885.5,496.9 886.0,498.2 886.7,501.8 887.3,501.6 888.0,502.1 888.4,504.6 889.3,514.8 890.0,518.7 890.6,521.5 891.2,522.9 891.9,523.0 892.5,524.6 893.2,524.9 893.8,528.0 894.5,530.5 895.0,530.0 895.8,531.8 896.4,534.0 897.1,534.6 897.7,536.3 898.4,533.8 899.0,538.9 899.7,538.3 900.3,544.9 901.0,546.1 901.9,549.2 902.3,547.2 902.9,550.0 903.6,546.7 904.2,545.7 904.9,542.1 905.8,546.8 906.2,544.1 906.8,545.3 907.5,550.6 908.1,551.2 908.8,547.6 909.4,551.4 910.1,553.9 910.7,550.5 911.4,549.3 912.0,551.7 912.7,551.3 913.3,549.0 914.0,550.1 914.6,550.9 915.3,551.6 915.9,551.0 916.6,552.6 917.2,555.7 917.6,552.1 917.9,556.5 918.5,555.5 919.2,555.8 919.8,555.8 920.5,552.9 921.1,551.5 921.8,556.1 922.4,553.9 923.1,554.6 923.4,555.5 923.7,552.0 924.4,555.1 925.0,556.1 925.7,555.5 926.3,556.6 927.0,559.1 927.4,560.3 928.3,564.4 928.9,565.5 929.6,568.1 930.3,566.7 930.9,570.6 931.5,573.0 932.2,575.5 932.8,578.0 933.5,584.2 934.2,587.7 934.8,586.4 935.4,582.9 936.1,586.8 936.7,588.7 937.4,594.4 938.1,594.9 938.7,595.9 939.3,601.5 940.0,604.7 940.6,607.9 941.1,610.4 941.9,611.1 942.6,612.6 943.2,615.7 943.9,615.7 944.5,619.9 945.0,619.8 945.8,621.9 946.5,626.2 947.1,626.6 947.8,629.6 948.4,630.8 948.9,635.2 949.7,634.3 950.4,633.7 951.0,633.7 951.7,634.9 952.3,633.2 952.8,630.9 953.6,638.7 954.3,637.2 954.9,639.6 955.6,638.1 956.2,638.1 956.7,639.9 957.5,645.3 958.2,645.5 958.8,647.9 959.5,649.3 960.1,649.3 960.7,656.5 961.4,653.5 962.1,654.8 962.7,655.8 963.4,659.6 964.0,662.5 964.7,662.0 965.6,664.1 966.0,663.1 966.6,666.1 967.3,664.4 967.9,664.9 968.6,662.6 969.2,666.8 969.9,666.0 970.5,664.2 971.4,664.2 971.8,667.2 972.5,665.8 973.1,669.8 973.8,669.9 974.4,671.1 975.4,677.1 975.7,674.1 976.4,674.1 977.0,681.1 977.7,678.7 978.3,683.0 979.3,683.0 979.6,681.6 980.3,681.0 980.9,684.0 981.6,685.3 982.2,684.2 982.9,685.2 983.5,685.0 984.2,686.7 984.8,689.8 985.5,691.8 986.1,691.3 986.8,696.0 987.1,697.9 987.4,698.1 988.1,696.3 988.7,699.2 989.4,698.2 990.0,698.6 990.7,702.8 991.3,701.2 992.0,705.4 992.6,705.5 993.3,700.5 993.9,704.3 994.6,701.4 995.2,705.2 995.9,706.3 996.5,708.9 997.2,710.9 997.8,708.4 998.5,713.4 998.9,711.6 999.8,715.7 1000.4,716.9 1001.1,715.7 1001.7,718.0 1002.4,715.6 1003.0,716.7 1003.8,716.1 1004.3,715.8 1005.0,720.2 1005.6,721.0 1006.3,720.1 1006.9,721.4 1007.7,721.3 1008.2,725.1 1008.9,724.7 1009.5,722.7 1010.2,722.8 1010.8,722.6 1011.5,721.7 1012.1,723.7 1012.6,724.7 1013.4,720.5 1014.1,726.4 1014.7,724.2 1015.4,725.9 1016.0,725.1 1016.5,727.1 1017.3,728.5 1018.0,728.8 1018.6,733.9 1019.1,729.7 1019.9,730.9 1020.6,731.6 1021.2,733.6 1021.9,734.8 1022.5,735.6 1023.2,735.2 1023.8,736.3 1024.4,733.0 1025.1,738.1 1025.8,737.6 1026.4,740.7 1027.1,740.6 1027.7,743.6 1028.4,743.4 1029.0,746.0 1029.7,743.0 1030.3,747.8 1031.0,744.0 1031.6,748.7 1032.3,744.0 1032.9,746.2 1033.6,744.6 1034.2,746.4 1034.9,747.8 1035.5,744.8 1036.2,746.7 1037.1,747.5 1037.5,745.2 1038.1,749.0 1038.8,747.8 1039.4,750.6 1040.1,749.0 1040.7,756.0 1041.4,752.4 1042.0,750.2 1042.7,754.9 1043.3,754.5 1044.0,753.4 1044.6,756.1 1045.3,755.5 1045.6,758.1 1045.9,755.8 1046.6,754.5 1047.2,755.3 1047.9,754.4 1048.5,752.7 1049.2,752.1 1049.9,750.3 1050.5,751.1 1051.1,752.8 1051.8,752.6 1052.4,752.2 1053.0,753.9 1053.7,750.6 1054.4,756.4 1055.0,753.5 1055.7,757.0 1056.3,758.3 1057.3,762.9 1057.6,765.7 1058.3,764.8 1058.9,765.3 1059.6,772.0 1060.5,773.5 1060.9,771.7 1061.5,777.5 1062.2,775.1 1062.8,775.0 1063.5,775.2 1064.1,774.7 1064.8,776.4 1065.4,775.9 1065.8,777.8 1066.1,773.8 1066.7,776.9 1067.4,779.2 1068.0,776.4 1068.7,780.0 1069.3,778.2 1070.0,781.7 1070.6,782.8 1071.3,782.4 1072.1,782.3 1072.6,781.5 1073.2,782.2 1073.9,784.2 1074.5,784.3 1075.2,783.4 1075.8,785.6 1076.5,784.1 1077.1,788.4 1077.8,788.3 1078.5,787.6 1079.1,789.5 1079.7,787.7 1080.4,790.4 1081.0,788.6 1081.7,786.6 1082.3,785.8 1083.0,792.0 1083.6,786.7 1084.3,789.4 1084.9,791.1 1085.6,789.5 1086.2,788.8 1086.9,790.1 1087.5,790.9 1088.2,791.1 1088.8,791.9 1089.5,789.5 1090.1,793.3 1090.8,792.2 1091.2,793.1 1092.1,794.3 1092.7,794.5 1093.4,792.6 1094.0,794.1 1094.7,794.8 1095.3,795.2 1096.0,796.6 1096.5,795.5 1097.3,798.9 1097.9,799.3 1098.6,801.5 1099.2,799.6 1099.9,803.6 1100.5,801.3 1101.2,801.5 1101.8,802.6 1102.5,806.2 1103.1,807.0 1103.8,807.4 1104.4,808.3 1105.1,809.1 1105.7,809.2 1106.1,811.7 1106.4,812.1 1107.0,816.6 1107.7,814.7 1108.6,819.4 1109.0,816.8 1109.6,814.8 1110.3,815.1 1110.9,809.4 1111.6,808.6 1112.5,812.7 1112.9,810.5 1113.5,810.5 1114.2,809.6 1114.8,810.1 1115.5,809.7 1116.1,809.7 1116.8,810.2 1117.4,810.3 1118.1,810.8 1118.8,808.3 1119.4,809.0 1120.0,812.0 1120.7,808.6 1121.3,809.4 1122.0,808.9 1122.6,807.8 1123.3,811.0 1124.1,808.7 1124.6,805.3 1125.2,810.6 1125.9,807.6 1126.5,807.3 1127.2,809.7 1127.8,812.8 1128.5,809.5 1129.4,814.5 1129.8,811.8 1130.4,815.2 1131.1,814.5 1131.7,812.3 1132.4,809.8 1133.0,813.6 1133.7,810.4 1134.3,815.1 1135.0,813.3 1135.8,816.0 1136.3,813.2 1136.9,812.5 1137.6,814.8 1138.2,812.5 1138.9,814.2 1139.5,813.9 1140.2,812.9 1140.8,812.0 1141.5,815.0 1142.1,816.7 1142.8,813.7 1143.4,812.7 1144.3,813.6 1144.7,812.3 1145.4,811.2 1146.0,816.0 1146.7,814.7 1147.3,814.1 1148.0,817.5 1148.6,814.8 1149.3,814.9 1149.9,816.4 1150.7,814.2 1151.2,815.7 1151.9,815.7 1152.5,816.3 1153.2,815.7 1153.8,817.4 1154.5,816.4 1155.1,816.3 1155.8,816.5 1156.4,814.2 1157.0,813.7 1157.7,814.6 1158.4,816.7 1159.0,812.8 1159.7,815.3 1160.3,813.5 1161.0,813.8 1161.6,813.1 1162.3,811.5 1162.9,816.4 1163.4,813.7 1164.2,814.4 1164.9,814.7 1165.5,810.5 1166.2,817.1 1166.8,817.8 1167.5,815.3 1168.1,816.1 1168.8,816.9 1169.7,817.2 1170.1,817.8 1170.7,817.6 1171.4,816.4 1172.0,817.7 1172.7,815.2 1173.3,817.0 1174.0,819.1 1174.6,819.7 1175.3,818.5 1176.1,819.1 1176.6,817.1 1177.2,819.1 1177.9,817.5 1178.5,816.2 1179.2,819.6 1179.8,817.7 1180.5,817.9 1181.1,815.6 1181.8,817.4 1182.5,817.8 1183.1,818.5 1183.7,818.7 1184.4,818.9 1185.0,819.9 1185.7,820.7 1186.3,820.8 1187.0,818.1 1187.8,820.1 1188.3,821.4 1188.9,820.3 1189.6,817.8 1190.2,817.7 1190.9,817.0 1191.5,816.9 1192.2,812.8 1193.1,811.9 1193.5,814.3 1194.2,812.9 1194.8,813.6 1195.5,813.6 1196.1,815.3 1196.8,814.9 1197.4,817.2 1198.1,815.2 1198.7,814.8 1199.5,815.0 1200.0,814.6 1200.7,813.0 1201.3,812.3 1202.0,816.0 1202.6,812.5 1203.3,811.9 1203.9,811.0 1204.6,811.5 1205.2,810.1 1205.8,810.7 1206.5,809.1 1207.2,809.3 1207.8,814.8 1208.5,811.7 1209.1,811.9 1209.8,813.3 1210.4,811.9 1211.1,811.6 1211.7,810.4 1212.2,812.4 1213.0,809.4 1213.7,810.0 1214.3,809.4 1215.0,811.8 1215.6,809.7 1216.3,809.7 1216.9,811.6 1217.6,811.4 1218.2,809.6 1218.6,809.3 1219.5,808.0 1220.2,808.6 1220.8,809.9 1221.5,809.3 1222.1,810.6 1222.8,809.1 1223.4,806.7 1224.1,807.1 1224.9,804.9 1225.4,808.8 1226.0,806.6 1226.7,808.8 1227.3,807.2 1228.0,808.1 1228.6,807.1 1229.3,807.3 1229.9,808.2 1230.6,806.7 1231.3,807.0 1231.9,806.7 1232.5,807.0 1233.2,806.9 1233.8,806.3 1234.5,807.7 1235.1,809.0 1235.8,808.4 1236.4,807.5 1237.1,806.9 1237.6,811.9 1238.4,809.9 1239.0,805.5 1239.7,804.4 1240.3,803.3 1241.0,806.4 1241.6,801.5 1242.3,803.3 1243.0,800.8 1243.6,802.2 1244.2,800.2 1244.9,801.2 1245.5,801.0 1246.2,802.2 1246.8,802.5 1247.2,801.0 1248.1,799.6 1248.8,800.8 1249.4,795.2 1250.1,799.6 1250.7,795.5 1251.4,794.4 1252.0,797.0 1252.7,794.1 1253.3,794.6 1254.0,795.7 1254.6,796.3 1255.3,792.4 1255.9,795.1 1256.7,794.5 1257.2,793.1 1257.9,795.1 1258.5,795.6 1259.2,792.2 1259.8,791.3 1260.5,788.3 1261.1,788.3 1261.8,787.2 1262.1,788.2 1262.4,787.8 1263.1,785.9 1263.7,786.3 1264.4,784.5 1265.0,785.2 1265.7,785.4 1266.3,785.3 1267.0,784.5 1267.4,784.6 1268.3,783.1 1268.9,781.3 1269.6,783.0 1270.2,780.0 1270.9,779.4 1271.5,780.9 1272.2,778.6 1272.7,778.6 1273.5,780.5 1274.1,776.6 1274.8,775.8 1275.4,780.7 1276.1,776.4 1276.7,776.1 1277.4,780.3 1278.0,777.4 1278.7,776.1 1279.3,772.8 1280.0,775.3 1280.6,773.8 1281.3,775.4 1281.9,771.0 1282.2,774.1 1282.6,776.2 1283.2,774.2 1283.9,773.1 1284.5,770.4 1285.2,773.6 1285.8,773.5 1286.5,773.1 1287.1,772.7 1287.5,776.8 1288.4,777.3 1289.1,773.8 1289.7,774.5 1290.4,774.7 1291.0,774.5 1291.7,777.1 1292.3,777.5 1292.8,778.4 1293.6,777.8 1294.3,778.9 1294.9,781.2 1295.6,780.4 1296.2,780.9 1297.1,778.4 1297.5,781.6 1298.2,782.3 1298.8,783.9 1299.5,786.7 1300.1,785.1 1300.8,788.6 1301.3,786.5 1302.1,790.5 1302.7,787.9 1303.4,790.0 1304.0,788.2 1304.7,790.0 1305.3,789.3 1306.0,793.9 1306.6,793.6 1307.3,792.6 1307.9,797.9 1308.6,798.5 1309.2,799.5 1309.9,802.4 1310.5,804.9 1310.9,805.5 1311.8,805.9 1312.5,806.7 1313.1,807.3 1313.8,804.5 1314.4,807.0 1315.1,804.6 1315.7,805.4 1316.2,804.6 1317.0,807.0 1317.7,810.4 1318.3,810.2 1319.0,812.9 1319.6,811.1 1320.4,814.8 1320.9,810.7 1321.6,815.3 1322.2,816.5 1322.9,816.9 1323.5,816.0 1324.2,816.7 1324.8,818.3 1325.7,822.0 1326.1,821.2 1326.8,820.5 1327.4,819.2 1328.1,823.6 1328.7,822.0 1329.4,825.0 1330.0,822.7 1330.7,824.0 1331.0,826.2 1332.0,827.4 1332.6,829.1 1333.3,828.8 1333.9,829.1 1334.6,831.1 1335.3,830.8 1335.9,830.8 1336.5,832.8 1337.2,835.5 1337.8,835.1 1338.5,836.1 1339.1,837.7 1339.8,838.1 1340.6,837.3 1341.1,838.5 1341.7,840.0 1342.4,842.3 1343.0,840.7 1343.7,839.9 1344.3,841.6 1345.0,842.1 1345.9,841.2 1346.3,843.5 1346.9,846.9 1347.6,843.2 1348.2,845.3 1348.9,846.6 1349.5,845.6 1350.2,843.9 1350.8,847.4 1351.5,846.8 1352.2,847.3 1352.8,849.1 1353.4,849.4 1354.1,851.2 1354.7,852.2 1355.4,850.1 1356.0,853.0 1356.7,852.4 1357.5,853.8 1358.0,855.5 1358.6,853.6 1359.3,853.4 1359.9,852.6 1360.6,856.9 1361.2,855.6 1361.9,855.8 1362.5,854.7 1362.8,857.6 1363.2,853.0 1363.8,857.2 1364.5,858.6 1365.1,858.3 1365.8,857.1 1366.4,857.4 1367.1,856.8 1367.7,856.9 1368.4,857.4 1369.2,857.2 1369.7,857.8 1370.3,857.3 1371.0,858.5 1371.6,859.5 1372.3,860.9 1372.9,859.5 1373.6,860.5 1374.2,859.8 1374.9,861.7 1375.6,860.0 1376.2,859.6 1376.8,859.7 1377.5,860.8 1378.1,861.8 1378.8,864.3 1379.4,863.3 1380.1,863.2 1380.7,862.1 1381.4,863.1 1381.9,863.5 1382.7,866.9 1383.3,865.7 1384.0,865.7 1384.6,863.4 1385.3,864.5 1385.9,864.7 1386.6,865.4 1387.2,864.0 1387.9,866.1 1388.5,865.6 1389.2,864.0 1390.0,865.7 1390.5,867.8 1391.1,868.2 1391.8,869.0 1392.4,867.5 1393.1,870.7 1393.4,870.5 1393.7,870.5 1394.4,869.1 1395.0,869.2 1395.7,871.9 1396.3,871.3 1397.0,871.9 1397.6,872.4 1398.3,870.4 1398.9,870.4 1399.6,869.7 1400.2,872.4 1400.9,871.5 1401.5,871.2 1402.3,870.9 1402.8,871.9 1403.5,874.5 1404.1,872.0 1404.8,871.3 1405.4,874.4 1406.1,873.8 1406.7,876.2 1407.4,875.1 1408.0,876.0 1408.7,874.0 1409.0,875.5 1409.3,875.6 1410.0,876.6 1410.6,877.5 1411.3,877.5 1411.9,877.5 1412.6,879.6 1413.2,879.5 1413.9,881.1 1414.5,879.0 1415.2,879.3 1415.7,878.6 1416.5,879.6 1417.1,880.5 1417.8,882.2 1418.4,879.7 1419.1,879.5 1419.7,880.9 1420.4,880.9 1421.0,881.8 1421.7,881.0 1422.3,881.2 1423.0,881.4 1423.6,882.3 1424.3,880.2 1424.6,882.6 1425.6,881.2 1426.2,884.0 1426.9,882.7 1427.5,884.2 1428.2,883.4 1428.8,884.9 1429.5,885.4 1430.1,883.8 1430.8,886.6 1431.3,886.0 1432.1,885.5 1432.7,887.0 1433.4,885.0 1434.0,886.3 1434.7,888.8 1435.3,888.0 1436.0,889.6 1436.9,889.5 1437.3,890.5 1437.9,891.3 1438.6,891.7 1439.2,892.2 1439.9,892.2 1440.5,894.1 1441.2,896.5 1441.8,894.7 1442.5,896.5 1443.1,896.8 1443.8,897.7 1444.4,899.4 1445.1,897.9 1445.7,901.8 1446.4,900.1 1447.0,899.6 1447.7,900.4 1448.0,902.6 1449.0,905.0 1449.6,904.1 1450.3,903.9 1450.9,907.3 1451.6,904.1 1452.2,906.1 1452.9,907.1 1453.6,907.6 1454.2,907.5 1454.8,906.2 1455.5,908.8 1456.1,907.5 1456.8,908.2 1457.4,906.8 1458.1,906.0 1458.7,909.5 1459.4,907.8 1460.0,907.5 1460.7,907.2 1461.3,907.7 1462.0,908.2 1462.5,908.1 1463.3,908.1 1463.9,908.0 1464.6,906.6 1465.2,908.1 1465.9,908.2 1466.5,906.8 1467.2,907.0 1467.8,907.4 1468.5,905.9 1469.2,907.1 1469.8,906.4 1470.4,907.5 1471.1,908.9 1471.7,906.3 1472.4,905.3 1473.0,906.5 1473.7,906.0 1474.3,905.4 1475.0,905.3 1475.6,905.2 1476.3,906.0 1476.9,904.9 1477.6,905.2 1478.2,905.5 1478.9,906.1 1479.5,905.2 1480.2,905.5 1480.8,906.1 1481.5,904.0 1482.1,905.5 1482.8,905.0 1483.4,902.9 1484.1,903.2 1484.8,904.5 1485.4,901.4 1486.0,902.6 1486.7,905.3 1487.3,904.3 1488.0,905.3 1488.6,905.4 1489.3,903.0 1489.9,903.0 1490.6,906.0 1491.2,902.5 1491.5,903.4 1491.9,904.7 1492.5,903.1 1493.2,903.7 1493.8,904.3 1494.5,904.1 1495.1,903.2 1495.8,904.1 1496.4,903.6 1497.1,903.5 1497.7,903.4 1498.4,902.4 1499.0,901.7 1499.7,903.0 1500.5,901.4 1501.0,903.1 1501.6,900.0 1502.3,900.9 1502.9,901.9 1503.6,899.9 1504.2,899.2 1504.9,901.2 1505.5,899.8 1506.2,900.1 1506.8,899.6 1507.5,901.0 1508.1,901.2 1508.8,899.2 1509.4,899.0 1510.1,897.6 1510.7,900.2 1511.6,900.9 1512.0,902.0 1512.7,899.7 1513.3,900.4 1514.0,899.0 1514.6,898.1 1515.3,897.5 1515.9,897.8 1516.6,899.2 1517.2,898.3 1517.9,896.1 1518.3,898.5 1519.2,898.1 1519.8,897.1 1520.5,897.0 1521.1,899.8 1521.8,898.9 1522.4,899.0 1523.1,900.3 1523.7,898.0 1524.4,899.8 1525.0,901.8 1525.7,899.7 1526.3,900.7 1527.0,901.9 1527.6,901.3 1528.3,900.8 1528.9,900.0 1529.6,900.7 1530.2,900.8 1530.9,902.1 1531.7,900.1 1532.2,900.9 1532.8,901.2 1533.5,902.1 1534.1,900.9 1534.8,900.7 1535.4,900.9 1536.1,899.5 1536.7,902.6 1537.4,899.2 1538.0,900.7 1538.7,900.3 1539.3,901.6 1540.0,902.1 1540.6,902.7 1541.3,901.3 1541.9,900.8 1542.8,900.9 1543.2,902.5 1543.9,902.9 1544.5,904.5 1545.2,902.7 1545.8,901.9 1546.5,903.3 1547.1,901.2 1547.8,904.1 1548.4,902.8 1549.1,902.8 1549.7,901.7 1550.4,902.9 1551.0,903.7 1551.8,903.2 1552.3,902.8 1553.0,902.4 1553.6,901.8 1554.3,901.0 1554.9,904.1 1555.6,903.1 1556.2,902.1 1556.9,903.2 1557.5,903.1 1558.2,902.4 1558.5,902.0 1558.8,904.3 1559.5,902.9 1560.1,901.6 1560.8,901.8 1561.4,901.7 1562.1,902.8 1562.7,902.1 1563.4,903.7 1564.0,902.5 1564.7,901.6 1565.3,902.7 1566.0,901.7 1566.6,901.9 1567.4,901.9 1567.9,901.0 1568.6,901.9 1569.2,902.7 1569.9,902.6 1570.5,902.5 1571.2,903.1 1571.8,903.1 1572.5,903.3 1573.1,901.2 1573.8,902.5 1574.1,902.2 1574.4,901.6 1575.1,903.6 1575.7,901.2 1576.4,901.9 1577.0,903.5 1577.7,901.8 1578.3,901.7 1579.0,900.8 1579.6,902.9 1580.3,901.2 1580.8,902.0 1581.6,900.7 1582.2,901.2 1582.9,899.6 1583.5,898.1 1584.2,897.2 1584.8,900.6 1585.5,897.1 1586.3,898.1 1586.8,899.1 1587.4,894.8 1588.1,895.1 1588.7,896.1 1589.4,894.3 1590.0,894.0 1590.7,893.2 1591.3,893.7 1591.9,893.9 1592.6,893.6 1593.3,891.8 1593.9,891.6 1594.6,891.0 1595.2,890.8 1595.9,889.8 1596.4,890.1 1597.2,888.0 1597.8,890.8 1598.5,891.4 1599.1,892.0 1599.8,891.4 1600.4,893.0 1600.8,892.9 1601.7,893.7 1602.4,893.2 1603.0,893.0 1603.7,897.1 1604.3,896.1 1605.0,897.2 1605.3,895.5 1605.6,897.2 1606.3,897.2 1606.9,897.6 1607.6,900.4 1608.2,897.2 1608.9,899.2 1609.5,899.8 1610.2,902.2 1610.8,901.2 1611.5,900.8 1612.0,901.1 1612.8,899.1 1613.4,902.8 1614.1,902.6 1614.7,904.0 1615.4,902.1 1616.0,902.9 1616.7,904.0 1617.3,904.0 1618.0,903.9 1618.7,904.7 1619.3,904.5 1619.9,904.0 1620.6,905.7 1621.2,903.2 1621.9,903.9 1622.5,902.9 1623.2,906.2 1623.8,904.7 1624.5,906.0 1625.4,906.2 1625.8,905.3 1626.4,905.0 1627.1,905.5 1627.7,905.9 1628.4,904.4 1629.0,906.6 1629.7,904.6 1630.3,905.5 1631.0,906.0 1631.6,905.2 1632.1,906.9 1632.9,905.0 1633.6,906.5 1634.2,905.7 1634.9,906.2 1635.5,906.9 1636.2,904.4 1636.8,903.9 1637.5,906.4 1638.1,906.2 1638.8,905.5 1639.4,904.7 1640.1,905.6 1640.7,903.4 1641.4,904.7 1642.0,904.4 1642.7,905.3 1643.3,903.1 1644.0,905.7 1644.6,906.3 1645.5,903.4 1645.9,904.3 1646.6,902.3 1647.2,907.1 1647.9,905.9 1648.5,905.4 1649.2,906.1 1649.8,906.6 1650.5,908.3 1651.1,906.4 1651.8,906.6 1652.1,906.1 1653.1,909.6 1653.7,910.4 1654.4,908.1 1655.0,910.3 1655.7,907.4 1656.3,910.0 1657.0,908.7 1657.6,909.8 1658.3,911.4 1658.8,911.6 1659.6,910.7 1660.2,910.3 1660.9,911.1 1661.5,909.1 1662.2,911.1 1662.8,909.9 1663.5,910.5 1664.1,911.1 1664.8,910.3 1665.5,908.8 1666.1,909.6 1666.7,910.1 1667.4,909.7 1668.0,911.1 1668.7,910.5 1669.3,910.4 1670.0,910.9 1670.6,910.2 1671.3,911.1 1671.9,911.8 1672.6,910.3 1673.2,911.6 1673.9,912.0 1674.5,912.4 1675.2,912.3 1675.8,912.9 1676.5,909.7 1677.1,911.4 1677.8,911.0 1678.4,910.8 1679.1,910.7 1679.7,911.6 1680.4,911.6 1681.0,911.3 1681.7,910.8 1682.3,911.7 1683.0,910.4 1683.4,909.6 1684.3,912.7 1684.9,911.7 1685.6,912.3 1686.2,912.2 1686.9,910.3 1687.5,911.5 1688.2,912.0 1688.8,912.2 1689.5,910.4 1690.1,912.4 1690.8,911.6 1691.4,911.6 1692.3,913.5 1692.7,911.0 1693.4,914.8 1694.0,912.3 1694.7,913.1 1695.3,912.4 1696.0,913.0 1696.6,911.4 1697.3,914.9 1697.9,912.9 1698.6,912.8 1699.0,912.8 1699.9,913.2 1700.5,916.4 1701.2,916.7 1701.8,917.5 1702.5,917.9 1703.1,919.0 1703.4,919.5 1703.8,919.5 1704.4,920.2 1705.1,920.7 1705.7,921.4 1706.4,922.2 1707.0,922.9 1707.7,923.2 1708.3,924.1 1709.0,925.0 1709.6,925.0 1710.3,925.9 1710.9,926.1 1711.6,927.1 1712.2,928.2 1712.9,928.1 1713.5,929.0 1714.2,928.4 1714.8,928.7 1715.5,928.5 1716.1,929.0 1716.8,928.6 1717.4,928.8 1718.1,928.8 1718.7,928.9 1719.4,928.7 1720.0,928.8 1720.7,928.9 1721.3,929.0 1722.0,928.9 1722.6,929.0 1723.3,928.6 1723.9,929.1 1724.6,929.2 1725.2,929.2 1725.9,929.0 1726.5,929.4 1727.2,929.0 1727.8,929.4 1728.5,929.2 1729.1,929.1 1729.8,929.8 1730.4,928.9 1731.1,928.9 1731.7,928.8 1732.4,929.2 1733.0,929.0 1733.7,929.4 1734.3,929.4 1735.0,929.0 1735.6,929.1 1736.3,929.2 1736.9,929.1 1737.6,929.3 1738.2,929.8 1738.9,929.3 1739.5,930.0 1740.2,929.8 1740.8,929.5 1741.5,929.5 1742.1,929.2 1742.8,929.7 1743.4,929.3 1744.1,929.6 1744.7,929.4 1745.4,929.6 1746.0,929.2 1746.7,929.7 1747.3,928.8 1748.0,928.9 1748.6,929.2 1749.3,929.4 1749.9,928.7 1750.6,929.5 1751.2,929.0 1751.9,929.3 1752.5,929.0 1753.2,929.4 1753.8,929.4 1754.5,929.5 1755.1,929.3 1755.8,929.2 1756.4,929.5 1757.1,929.4 1757.7,929.6 1758.4,929.2 1759.0,929.3 1759.7,929.6 1760.3,929.1 1761.0,929.5 1761.6,929.5 1762.3,929.3 1762.9,928.6 1763.6,929.3 1764.2,929.4 1764.9,929.4 1765.5,929.8 1766.2,929.1 1766.8,929.7 1767.5,930.2 1768.1,929.7 1768.8,929.8 1769.4,929.6 1770.1,928.8 1770.7,929.4 1771.4,929.1 1772.0,929.5 1772.7,929.0 1773.3,929.9 1774.0,929.3 1774.6,929.1 1775.3,929.1 1775.9,929.5 1776.6,930.0 1777.2,929.8 1777.9,929.8 1778.5,928.8 1779.2,929.3 1779.8,929.4 1780.5,929.6 1781.1,929.5 1781.8,929.1 1782.4,929.4 1783.1,930.0 1783.7,929.2 1784.4,929.1 1785.0,929.5 1785.7,929.2 1786.0,929.6" stroke="#0f0" stroke-width="2.5"/>
<path d="M355.0,684.0 355.9,684.4 356.3,684.7 356.9,684.2 357.6,684.0 358.2,684.3 358.9,684.5 359.5,684.7 360.2,684.0 360.8,684.0 361.5,684.6 362.1,684.5 362.8,684.8 363.4,684.6 364.1,684.3 364.7,684.3 365.4,685.1 366.0,684.3 366.7,684.1 367.3,684.0 368.0,684.4 368.6,684.4 369.3,684.2 369.9,684.3 370.6,684.4 371.2,684.6 371.9,684.7 372.5,684.4 373.2,683.8 373.8,684.6 374.5,683.9 375.1,684.3 375.8,683.9 376.4,684.4 377.1,684.1 377.7,684.4 378.4,685.2 379.0,684.3 379.7,684.6 380.3,684.0 381.0,684.3 381.6,684.6 382.3,684.3 382.9,684.5 383.6,684.4 384.2,684.1 384.9,684.5 385.5,684.1 386.2,684.9 386.8,684.2 387.5,684.6 388.1,684.4 388.8,684.6 389.4,684.2 390.1,684.7 390.7,684.3 391.4,684.7 392.0,684.5 392.7,684.4 393.3,684.1 394.0,684.6 394.6,684.5 395.3,684.8 395.9,684.2 396.6,684.5 397.2,684.5 397.9,684.4 398.5,684.4 399.2,684.4 399.8,684.2 400.5,684.0 401.1,684.2 401.8,684.5 402.4,684.8 403.1,684.6 403.7,684.7 404.4,684.6 405.0,684.6 405.7,684.4 406.3,684.6 407.0,684.9 407.6,684.3 408.3,684.1 408.9,684.9 409.6,684.4 410.2,684.6 410.9,684.6 411.5,684.0 412.2,685.1 412.8,684.9 413.5,684.4 414.1,684.6 414.8,684.4 415.4,684.1 416.1,684.3 416.7,684.5 417.4,684.7 418.0,684.6 418.7,684.4 419.3,684.8 420.0,684.1 420.6,684.6 421.3,684.7 421.9,684.3 422.6,683.8 423.2,684.1 423.9,684.4 424.5,684.5 425.2,684.8 425.8,684.1 426.5,684.4 427.1,684.5 427.8,684.3 428.4,683.6 429.1,684.6 429.7,685.0 430.4,684.7 431.0,684.1 431.7,684.2 432.3,684.4 433.0,685.1 433.6,684.5 434.3,684.4 434.9,684.8 435.6,684.3 436.2,684.9 436.9,684.1 437.5,684.2 438.2,684.6 438.8,684.8 439.5,684.5 440.1,684.4 440.8,683.8 441.4,684.1 442.1,684.2 442.7,684.2 443.4,684.5 444.0,684.3 444.7,684.6 445.3,684.4 446.0,684.3 446.6,684.4 447.3,684.5 447.9,684.6 448.6,684.2 449.2,684.3 449.9,683.9 450.5,684.8 451.2,684.8 451.8,684.3 452.5,684.2 453.1,684.0 453.8,684.4 454.4,684.4 455.1,685.0 455.7,684.4 456.4,684.1 457.0,683.6 457.7,684.8 458.3,684.4 459.0,683.9 459.6,684.4 460.3,683.9 460.9,685.2 461.6,684.7 462.2,684.5 462.9,684.3 463.5,683.7 464.2,684.3 464.8,683.9 465.5,684.5 466.1,683.7 466.8,684.1 467.4,684.7 468.1,684.8 468.7,684.0 469.4,683.9 470.0,684.6 470.7,684.6 471.3,684.1 472.0,684.1 472.6,684.1 473.3,684.0 473.9,684.1 474.6,684.7 475.2,684.6 475.9,685.0 476.5,684.3 477.2,684.3 477.8,684.1 478.5,684.3 479.1,684.0 479.8,683.8 480.4,684.6 481.1,684.8 481.7,684.6 482.4,684.8 483.0,684.4 483.7,684.1 484.3,684.4 485.0,684.2 485.6,684.0 486.3,683.8 487.1,684.2 487.6,684.2 488.2,684.0 488.9,683.6 489.5,684.0 490.2,683.4 490.8,683.3 491.5,683.3 492.1,682.5 492.8,682.0 493.4,682.6 494.1,681.9 494.7,682.3 495.4,682.0 496.0,682.3 496.7,681.9 497.3,679.4 498.0,681.5 498.9,680.4 499.3,679.8 499.9,679.8 500.6,680.5 501.2,680.3 501.9,680.1 502.5,677.6 503.2,678.2 503.8,676.5 504.5,678.0 505.1,678.3 505.8,676.9 506.7,677.2 507.1,677.0 507.7,677.3 508.4,675.4 509.0,675.0 509.7,674.7 510.3,676.3 511.0,675.4 511.6,674.0 512.3,673.9 512.9,673.4 513.6,673.1 514.2,672.4 514.9,671.9 515.5,670.8 516.5,671.0 516.8,671.9 517.5,669.8 518.1,668.2 518.8,666.8 519.4,665.8 520.1,664.9 520.7,662.9 521.4,662.4 522.0,661.2 522.4,660.2 522.7,659.1 523.3,657.7 524.0,656.3 524.6,656.6 525.3,652.7 525.9,653.1 526.6,651.5 527.3,650.5 527.9,650.0 528.5,650.0 529.2,648.4 529.8,647.4 530.5,646.2 531.1,645.8 531.8,645.8 532.4,644.0 533.1,642.6 533.7,641.7 534.4,641.0 535.0,640.0 535.7,641.2 536.1,640.0 537.0,638.1 537.6,638.4 538.3,635.6 538.9,635.6 539.6,634.5 540.2,631.6 540.9,630.4 541.5,629.8 542.2,630.2 542.8,629.4 543.5,626.3 544.1,627.0 544.8,624.7 545.4,623.6 545.9,623.1 546.7,621.2 547.4,618.7 548.0,618.1 548.7,616.6 549.3,616.7 550.0,616.6 550.6,615.8 551.3,612.1 551.9,609.7 552.6,609.4 553.2,607.7 553.7,608.1 554.5,605.9 555.2,603.2 555.8,602.9 556.5,601.0 557.1,597.6 557.6,597.6 558.4,597.5 559.1,597.6 559.7,597.6 560.4,597.0 561.0,597.6 561.7,596.5 562.3,596.0 563.0,599.1 563.6,597.5 564.3,597.5 564.9,594.8 565.5,596.7 566.2,595.9 566.9,591.5 567.5,593.0 568.2,589.4 568.8,588.8 569.5,586.5 570.1,585.3 570.8,585.0 571.3,581.9 572.1,582.2 572.7,577.5 573.4,575.7 574.0,576.2 574.7,572.3 575.3,571.6 576.0,571.6 576.6,570.4 577.2,566.6 577.9,567.0 578.6,567.8 579.2,565.9 579.9,563.1 580.5,561.6 581.2,561.0 581.8,559.0 582.5,559.1 583.1,558.3 583.8,557.3 584.4,558.1 585.0,555.6 585.7,551.9 586.4,553.4 587.0,548.9 587.7,548.0 588.3,546.7 589.0,544.7 589.6,542.1 590.3,541.2 590.9,542.0 591.6,536.4 592.2,534.8 592.9,534.7 593.5,531.6 594.2,529.2 594.6,527.0 595.5,520.7 596.1,521.1 596.8,521.4 597.6,519.8 598.1,522.4 598.7,521.8 599.4,521.4 600.0,522.7 600.5,523.1 601.3,517.6 602.0,513.6 602.6,507.0 603.4,501.0 603.9,499.8 604.6,502.8 605.2,502.6 605.9,501.6 606.5,500.8 607.2,500.2 607.8,498.2 608.3,498.4 609.1,497.5 609.8,500.4 610.3,501.1 611.1,497.7 611.7,491.0 612.4,487.6 613.2,482.5 613.7,484.9 614.3,481.5 615.0,481.8 615.6,485.4 616.3,482.4 617.2,485.5 617.6,482.9 618.2,482.0 618.9,477.2 619.5,480.0 620.1,476.8 620.8,472.6 621.5,475.4 622.1,470.3 622.8,471.3 623.4,464.6 624.0,461.3 624.7,461.3 625.4,463.5 626.0,460.2 627.0,460.0 627.3,457.0 628.0,448.6 628.9,442.1 629.3,434.5 629.9,422.1 630.9,409.5 631.2,407.7 631.9,403.0 632.5,397.5 633.2,391.9 633.8,392.5 634.5,391.5 635.1,388.3 635.8,390.8 636.4,387.8 637.3,390.1 637.7,395.1 638.4,403.0 639.3,412.8 639.7,410.8 640.3,405.0 641.0,402.9 641.6,399.2 642.3,396.3 642.6,395.2 642.9,397.2 643.6,401.2 644.2,395.8 644.9,403.3 645.6,404.6 646.2,409.1 646.8,406.9 647.5,402.4 648.1,406.4 648.8,404.9 649.4,407.9 650.1,404.4 650.7,406.3 651.4,406.6 652.0,403.8 652.7,400.0 653.3,394.8 654.0,396.0 654.6,394.1 655.4,389.0 655.9,388.9 656.6,392.8 657.2,395.2 657.9,395.6 658.3,396.9 659.2,395.2 659.8,387.7 660.5,385.6 661.2,381.5 661.8,380.4 662.4,378.6 663.1,376.5 663.7,375.3 664.2,377.0 665.0,377.4 665.7,379.3 666.3,385.2 667.1,383.2 667.6,381.3 668.3,386.6 668.9,385.7 669.6,391.8 670.2,388.1 671.0,391.5 671.5,388.5 672.2,390.7 672.8,387.9 673.5,388.8 674.1,387.5 674.9,386.6 675.4,383.7 676.1,377.2 676.9,367.6 677.4,358.9 677.9,352.9 678.7,353.8 679.3,357.2 680.0,351.6 680.8,351.2 681.3,347.2 681.9,342.0 682.8,337.3 683.2,336.2 683.9,337.0 684.5,332.3 685.2,329.2 685.7,326.9 686.5,326.4 687.1,324.0 687.8,319.9 688.7,318.6 689.1,320.4 689.7,323.6 690.4,324.2 691.0,324.7 691.6,325.2 692.3,327.5 693.0,328.1 693.6,333.3 694.1,329.3 694.9,322.9 695.6,320.4 696.5,310.5 696.9,312.9 697.5,309.5 698.2,309.1 698.8,307.5 699.5,304.9 700.0,306.0 700.8,300.6 701.4,289.3 702.0,281.9 702.7,281.5 703.4,279.5 703.9,278.4 704.7,278.9 705.3,280.6 706.3,284.2 706.6,283.4 707.3,283.0 707.9,286.3 708.6,287.0 709.2,289.8 709.9,290.2 710.5,291.7 711.2,295.2 711.8,300.8 712.2,299.0 712.5,300.5 713.1,302.5 713.8,305.3 714.1,306.7 714.4,307.8 715.1,301.2 715.7,305.4 716.4,301.9 717.0,300.1 717.7,303.9 718.0,298.9 718.3,300.6 719.0,294.9 719.6,287.4 720.3,286.4 721.0,282.1 721.6,279.9 722.2,274.2 722.9,277.1 723.5,280.0 724.2,281.2 724.8,290.1 725.5,289.0 725.9,290.8 726.8,296.7 727.4,299.9 727.8,303.1 728.7,300.9 729.4,299.0 729.8,296.5 730.7,289.5 731.3,281.7 731.7,281.9 732.6,284.1 733.3,289.1 733.9,289.9 734.7,294.6 735.2,297.4 735.9,296.7 736.5,306.3 737.2,303.4 737.6,304.8 738.5,299.0 739.1,300.4 740.0,294.5 740.4,296.5 741.1,296.9 741.7,302.4 742.5,308.4 743.0,301.3 743.7,293.2 744.3,286.5 745.0,280.6 745.5,277.5 746.3,275.5 746.9,276.4 747.6,281.3 748.2,278.9 748.9,272.8 749.4,274.9 750.2,272.5 750.8,270.3 751.5,270.9 752.3,266.4 752.8,266.9 753.4,267.8 754.1,269.5 754.7,273.3 755.2,272.4 756.0,264.4 756.8,262.3 757.3,264.3 758.0,271.3 758.6,273.9 759.2,277.4 759.9,275.4 760.6,270.9 761.2,274.8 761.9,273.5 762.5,273.3 763.1,270.3 763.8,266.4 764.5,260.3 765.0,257.2 765.8,255.7 766.6,252.4 767.0,225.8 767.7,221.8 768.4,219.0 769.0,221.5 769.9,221.9 770.3,222.9 771.0,221.5 771.6,228.1 772.5,235.0 772.9,240.5 773.6,242.6 774.2,244.1 774.9,247.0 775.2,247.1 775.5,242.1 776.2,231.8 776.8,221.9 777.5,219.7 778.1,215.6 778.8,214.2 779.7,210.6 780.1,204.0 780.7,191.2 781.1,183.3 782.0,165.0 782.7,158.0 783.3,152.1 784.0,142.3 784.6,148.3 785.3,147.0 785.9,150.9 786.6,151.9 787.2,156.7 787.9,171.2 788.6,172.5 789.2,179.1 789.8,179.1 790.5,184.2 790.9,184.7 791.8,178.4 792.4,176.8 792.9,174.0 793.7,171.7 794.4,174.8 795.0,178.1 795.4,176.1 796.3,169.6 796.8,163.2 797.6,163.9 798.3,162.4 798.9,163.1 799.6,160.1 800.3,156.8 800.9,158.9 801.5,154.2 802.2,157.4 802.7,156.9 803.5,160.1 804.1,160.3 804.8,166.9 805.2,166.2 806.1,174.0 806.7,183.8 807.2,191.0 808.0,188.8 808.7,189.7 809.3,188.7 810.1,187.6 810.6,194.4 811.3,203.5 812.1,211.3 812.6,212.6 813.2,210.5 813.9,220.2 814.5,221.4 815.4,223.9 815.8,223.5 816.5,216.7 817.1,213.3 817.9,211.4 818.4,211.3 819.1,199.5 819.7,198.4 820.3,194.6 821.0,190.7 821.7,187.7 822.3,178.8 822.8,174.4 823.6,164.4 824.3,154.5 824.8,146.6 825.6,128.8 826.2,111.5 826.9,120.6 827.7,125.4 828.2,132.8 828.8,132.1 829.5,142.4 830.1,142.4 830.8,158.3 831.4,164.2 832.0,172.1 832.7,178.2 833.4,184.0 834.0,185.6 834.6,190.9 835.3,195.6 836.0,197.6 836.6,195.0 837.1,202.7 837.9,199.7 838.6,195.9 839.5,191.6 839.9,193.0 840.5,206.4 841.2,208.7 841.8,213.3 842.5,208.6 843.1,201.9 843.8,193.5 844.4,196.8 845.1,205.1 845.7,208.4 846.4,208.0 846.9,214.7 847.7,206.4 848.3,197.4 849.0,199.2 849.6,201.1 850.3,201.2 850.9,205.5 851.6,202.5 852.2,200.2 852.9,199.6 853.5,198.4 854.2,196.3 855.1,193.1 855.5,183.8 856.1,175.4 856.5,166.5 857.4,168.7 858.1,174.2 858.7,182.6 859.1,180.5 859.4,180.3 860.0,179.3 860.7,186.2 861.0,188.7 861.3,186.0 862.0,183.8 862.6,173.2 863.0,168.3 863.3,161.1 863.9,150.8 864.6,143.2 864.9,138.0 865.2,146.6 865.9,144.1 866.5,147.9 867.3,155.5 867.8,164.9 868.5,174.2 868.9,185.0 869.8,197.1 870.4,201.5 870.8,213.5 871.7,201.2 872.4,187.7 872.8,184.7 873.7,187.0 874.3,179.1 875.0,173.6 875.7,178.9 876.3,192.7 876.9,210.5 877.6,221.3 878.3,230.8 878.9,225.8 879.5,206.1 880.2,199.4 880.6,185.1 881.5,209.5 882.2,221.4 882.8,213.4 883.4,204.6 884.1,194.3 884.7,192.7 885.5,185.6 886.0,191.3 886.9,207.9 887.3,216.9 888.0,238.6 888.8,258.4 889.3,251.7 889.9,235.0 890.6,223.4 891.4,204.2 891.9,208.7 892.5,223.5 893.3,240.1 893.8,236.5 894.5,216.5 895.1,210.0 895.9,194.6 896.4,216.3 897.1,231.9 897.8,267.4 898.4,251.2 899.0,247.5 899.7,232.5 900.2,219.8 901.0,217.1 901.6,239.1 902.3,247.3 903.1,252.1 903.6,249.4 904.2,232.7 905.1,215.6 905.5,211.3 906.2,208.0 906.8,208.7 907.5,220.8 908.0,207.4 908.8,231.1 909.6,253.1 910.1,242.5 910.7,231.5 911.4,218.6 911.9,214.4 912.7,217.3 913.3,227.2 914.0,222.8 914.9,236.0 915.3,220.3 915.9,201.3 916.8,167.8 917.2,162.9 917.9,170.6 918.5,161.4 919.2,161.0 919.8,158.7 920.5,171.1 921.1,177.5 921.7,188.0 922.4,177.4 923.1,162.0 923.7,153.0 924.7,207.8 925.0,218.7 925.7,230.7 926.3,235.4 927.2,259.0 927.6,254.1 928.3,245.0 928.9,237.0 929.6,226.2 930.2,220.5 930.9,216.7 931.5,203.4 932.2,192.2 932.5,195.2 932.8,197.9 933.5,192.0 934.1,200.5 934.5,206.1 934.8,189.4 935.5,160.2 936.1,132.4 936.4,128.2 936.7,135.0 937.4,126.9 938.0,125.1 938.4,126.9 938.7,154.5 939.4,197.5 940.0,209.5 940.6,234.8 941.3,247.5 941.9,259.0 942.6,258.7 943.3,277.5 943.9,277.4 944.5,265.8 945.2,272.2 945.8,271.2 946.2,264.6 947.2,347.0 947.8,328.0 948.4,317.0 949.1,298.9 949.6,283.5 950.4,306.0 951.1,316.6 951.7,318.4 952.3,315.8 953.0,331.6 953.6,342.2 954.1,333.7 954.9,329.4 955.6,332.3 956.2,329.0 956.9,319.0 957.5,319.9 958.0,320.0 958.8,347.6 959.3,347.0 960.1,356.0 960.8,364.0 961.3,378.8 962.3,386.6 962.7,390.6 963.4,361.7 964.0,374.1 964.7,372.4 965.3,379.5 966.0,411.7 966.6,364.5 967.3,389.2 967.9,369.6 968.6,398.1 969.2,397.8 969.9,378.0 970.5,406.5 971.2,384.7 971.8,398.3 972.5,387.6 973.1,378.1 973.8,380.2 974.4,383.2 975.0,391.4 975.7,386.7 976.4,411.9 977.0,384.5 977.7,382.2 978.3,380.0 979.0,380.0 979.6,373.4 980.3,379.0 980.9,400.5 981.6,391.8 982.2,390.0 982.9,396.3 983.5,406.2 984.2,403.2 984.8,406.9 985.5,394.2 986.1,399.4 986.8,395.7 987.4,405.4 988.1,399.8 988.7,406.9 989.4,411.4 990.0,412.6 990.7,414.2 991.3,414.8 992.0,444.0 992.6,424.7 993.3,419.3 993.9,440.0 994.6,426.2 995.2,426.7 995.9,443.2 996.5,419.1 997.2,404.9 997.8,447.1 998.5,457.9 999.1,420.3 999.8,431.5 1000.4,452.4 1001.1,416.8 1001.7,432.8 1002.5,428.5 1003.0,442.4 1003.7,417.4 1004.3,457.4 1005.0,442.7 1005.6,448.8 1006.3,439.8 1006.9,414.5 1007.6,441.9 1008.2,425.1 1008.9,443.9 1009.5,431.6 1010.3,439.0 1010.8,440.7 1011.5,454.8 1012.1,455.1 1012.8,430.6 1013.4,444.7 1014.1,465.7 1014.7,452.5 1015.4,435.7 1016.0,444.6 1016.7,441.7 1017.3,460.1 1018.1,447.8 1018.6,452.9 1019.3,479.0 1019.9,429.2 1020.6,434.8 1021.2,425.1 1021.9,427.5 1022.5,462.3 1023.2,454.8 1024.0,474.1 1024.5,425.3 1025.1,442.9 1025.8,477.7 1026.4,474.2 1027.1,474.4 1027.9,477.1 1028.4,465.7 1029.0,465.6 1029.7,466.7 1030.3,478.6 1031.0,465.0 1031.6,472.2 1032.3,488.6 1032.9,452.9 1033.6,458.7 1034.2,477.6 1034.9,466.5 1035.8,468.6 1036.2,501.1 1036.8,478.8 1037.5,468.4 1038.1,491.0 1038.8,512.1 1039.4,462.6 1040.1,470.1 1040.7,482.4 1041.4,473.2 1042.0,513.8 1042.7,492.0 1043.6,480.9 1044.0,494.7 1044.6,479.0 1045.3,484.9 1045.9,496.0 1046.6,526.8 1047.5,472.1 1047.9,504.9 1048.5,515.7 1049.2,507.2 1049.8,521.1 1050.5,501.9 1051.1,497.2 1051.8,492.8 1052.4,482.9 1053.4,512.8 1053.7,477.7 1054.4,491.2 1055.0,486.4 1055.7,483.3 1056.3,465.6 1057.0,488.8 1057.6,495.5 1058.3,495.8 1058.9,504.8 1059.3,492.3 1059.6,487.1 1060.2,500.5 1060.9,506.4 1061.5,488.3 1062.2,482.2 1062.8,489.9 1063.5,517.4 1064.1,518.2 1064.8,496.1 1065.1,509.4 1065.4,519.0 1066.1,526.2 1066.7,502.5 1067.4,508.8 1068.0,530.5 1068.7,544.1 1069.3,534.2 1070.0,501.9 1070.6,522.8 1071.0,514.1 1071.9,515.7 1072.6,507.2 1073.2,508.5 1073.9,513.4 1074.5,535.1 1075.2,520.3 1075.8,515.9 1076.5,509.9 1077.1,499.2 1077.8,504.8 1078.4,522.2 1078.9,516.4 1079.7,530.9 1080.4,509.8 1081.0,506.6 1081.7,486.8 1082.3,512.2 1083.0,485.9 1083.6,526.7 1084.3,500.0 1084.7,508.0 1085.6,492.6 1086.2,504.4 1086.9,500.0 1087.5,526.9 1088.2,516.9 1088.8,500.1 1089.5,491.8 1090.1,516.2 1090.6,511.7 1091.4,505.1 1092.1,527.2 1092.7,518.4 1093.4,522.9 1094.0,515.0 1094.7,516.2 1095.3,518.4 1096.0,505.0 1096.5,533.5 1097.3,533.5 1097.9,509.2 1098.6,534.3 1099.2,549.8 1099.9,540.6 1100.4,555.6 1101.2,534.4 1101.8,536.5 1102.5,518.9 1103.1,522.6 1103.8,509.8 1104.3,520.3 1105.1,538.7 1105.7,545.7 1106.4,557.2 1107.3,548.8 1107.7,537.5 1108.3,559.1 1109.0,555.8 1109.6,583.9 1110.2,586.4 1110.9,576.9 1111.6,555.1 1112.2,563.2 1113.1,572.8 1113.5,562.0 1114.2,574.3 1114.8,574.8 1115.5,575.2 1116.1,567.2 1116.8,553.7 1117.4,552.8 1118.0,559.6 1118.7,574.4 1119.4,576.0 1120.0,568.4 1120.7,560.6 1121.3,563.0 1122.0,563.6 1122.9,567.3 1123.3,561.9 1123.9,534.6 1124.6,560.9 1125.2,553.6 1125.9,543.3 1126.5,553.1 1127.2,549.4 1127.8,544.7 1128.5,526.7 1129.1,546.5 1129.8,551.4 1130.4,544.7 1131.1,527.8 1131.7,550.3 1132.4,553.2 1133.0,547.2 1133.7,549.9 1134.3,540.9 1135.0,537.1 1135.6,549.7 1136.3,539.6 1136.9,545.1 1137.6,572.3 1138.2,550.0 1138.9,543.3 1139.6,523.5 1140.2,543.6 1140.8,552.2 1141.5,537.4 1142.1,543.9 1142.8,523.0 1143.4,555.2 1144.1,543.8 1144.7,559.2 1145.5,568.1 1146.0,550.9 1146.7,563.1 1147.3,554.6 1148.0,549.1 1148.6,547.9 1149.3,541.1 1149.9,564.2 1150.6,559.3 1151.3,538.1 1151.9,558.0 1152.5,540.3 1153.2,531.4 1153.8,560.7 1154.5,533.0 1155.1,559.6 1155.8,548.4 1156.4,555.7 1157.2,550.9 1157.7,557.8 1158.4,548.7 1159.0,551.0 1159.7,547.1 1160.3,556.2 1161.0,539.7 1161.6,554.9 1162.3,560.1 1163.1,542.6 1163.6,548.0 1164.2,537.2 1164.9,539.5 1165.5,545.3 1166.2,538.5 1166.8,532.3 1167.5,541.5 1168.1,543.7 1169.0,544.9 1169.4,549.8 1170.1,523.3 1170.7,559.3 1171.4,542.7 1172.0,537.0 1172.7,542.2 1173.3,552.1 1174.0,557.6 1174.8,545.1 1175.3,550.6 1175.9,530.9 1176.6,549.8 1177.2,546.3 1177.9,542.4 1178.5,556.4 1179.2,566.0 1179.8,557.2 1180.7,536.6 1181.1,561.8 1181.8,540.8 1182.4,543.6 1183.1,537.3 1183.7,548.2 1184.4,548.9 1185.0,543.9 1185.7,539.6 1186.6,539.8 1187.0,537.1 1187.6,552.4 1188.3,536.2 1188.9,540.5 1189.6,540.0 1190.2,534.3 1190.9,540.3 1191.5,526.9 1192.5,547.8 1192.9,548.5 1193.5,537.9 1194.2,557.0 1194.8,529.6 1195.5,543.4 1196.1,541.2 1196.8,528.8 1197.4,530.8 1198.3,541.3 1198.7,532.2 1199.4,534.6 1200.0,546.9 1200.7,533.9 1201.3,513.2 1202.0,523.5 1202.6,540.7 1203.3,530.1 1203.9,519.7 1204.2,509.9 1204.6,535.4 1205.2,549.0 1205.9,519.5 1206.5,510.1 1207.2,539.9 1207.8,529.2 1208.5,532.6 1209.1,532.9 1209.8,527.2 1210.1,542.2 1210.4,546.9 1211.1,539.8 1211.7,528.6 1212.4,545.0 1213.0,531.4 1213.7,537.8 1214.3,520.2 1215.0,536.5 1215.6,536.4 1216.0,541.7 1216.9,527.9 1217.6,532.5 1218.2,521.3 1218.9,537.3 1219.5,536.1 1220.2,539.4 1220.8,523.4 1221.5,514.3 1221.8,526.9 1222.8,525.1 1223.4,519.0 1224.1,533.5 1224.7,537.0 1225.4,530.8 1226.0,538.3 1226.7,530.3 1227.3,515.2 1227.7,519.3 1228.6,520.0 1229.3,530.1 1229.9,531.3 1230.6,521.5 1231.2,529.7 1231.9,508.5 1232.5,514.9 1233.2,531.1 1233.6,518.8 1234.5,525.0 1235.1,492.9 1235.8,495.1 1236.4,503.6 1237.1,523.7 1237.7,530.2 1238.4,505.6 1239.0,501.4 1239.5,501.0 1240.3,504.6 1241.0,522.1 1241.6,514.5 1242.3,536.4 1243.0,521.7 1243.6,534.0 1244.4,566.8 1244.9,547.4 1245.7,515.9 1246.2,521.9 1246.8,507.5 1247.3,516.0 1248.1,512.0 1248.8,505.4 1249.4,507.5 1250.1,510.4 1250.7,500.7 1251.4,496.7 1252.0,513.0 1252.7,501.0 1253.2,495.0 1254.0,504.1 1254.6,486.7 1255.3,500.0 1255.9,487.3 1256.6,495.3 1257.2,483.1 1257.9,492.3 1258.5,506.4 1259.1,496.7 1259.8,487.3 1260.5,513.2 1261.1,492.0 1261.8,510.5 1262.4,491.5 1263.1,481.1 1263.7,516.7 1264.4,491.9 1264.9,504.5 1265.7,503.4 1266.3,471.2 1267.0,480.9 1267.9,466.6 1268.3,478.9 1268.9,471.4 1269.6,457.2 1270.2,470.7 1270.9,477.5 1271.5,465.3 1272.2,473.8 1272.8,461.2 1273.5,464.0 1274.1,466.0 1274.8,461.6 1275.4,471.4 1276.1,465.7 1276.7,462.3 1277.4,457.3 1278.0,447.5 1278.3,431.3 1278.7,452.0 1279.3,452.1 1280.0,428.7 1280.3,419.6 1281.3,410.6 1281.9,416.2 1282.3,401.9 1283.2,385.7 1283.9,392.7 1284.5,384.6 1285.2,388.8 1285.8,379.8 1286.5,378.3 1287.1,391.7 1287.8,388.3 1288.1,383.1 1289.1,382.0 1289.7,386.1 1290.1,389.0 1291.0,372.3 1291.7,373.1 1292.4,359.6 1293.0,379.9 1293.6,402.7 1294.0,414.4 1294.9,419.9 1295.6,428.5 1296.0,432.1 1296.9,428.3 1297.5,441.8 1297.9,459.2 1298.8,455.4 1299.5,453.8 1300.1,450.3 1300.9,452.7 1301.4,455.2 1302.1,482.7 1302.7,458.7 1303.4,481.3 1303.8,476.5 1304.7,477.5 1305.3,479.6 1306.0,477.8 1306.7,494.0 1307.3,488.9 1307.9,488.2 1308.6,490.6 1309.2,495.9 1309.7,488.9 1310.5,502.7 1311.2,507.1 1311.6,520.6 1312.5,517.2 1313.1,497.7 1313.8,506.4 1314.6,511.3 1315.1,498.9 1315.7,503.9 1316.4,523.2 1317.0,519.8 1317.5,521.1 1318.3,516.6 1319.0,526.8 1319.6,522.4 1320.3,528.4 1320.9,530.5 1321.4,532.9 1322.2,527.9 1322.9,528.3 1323.5,533.8 1324.4,535.2 1324.8,536.2 1325.5,530.1 1326.1,530.8 1326.8,527.2 1327.3,526.0 1328.1,535.5 1328.7,546.3 1329.4,538.6 1330.3,551.7 1330.7,550.6 1331.3,549.8 1332.0,554.6 1332.6,547.0 1333.2,555.4 1333.9,556.1 1334.6,537.4 1335.2,561.1 1335.9,565.0 1336.5,576.6 1337.1,558.0 1337.8,564.9 1338.5,565.7 1339.1,555.7 1339.8,569.6 1340.4,563.4 1341.0,554.0 1341.7,554.8 1342.4,563.6 1343.0,586.2 1343.7,588.2 1344.0,558.1 1344.3,562.8 1345.0,580.2 1345.6,575.2 1346.3,571.9 1346.9,580.7 1347.6,577.5 1347.9,579.0 1348.2,579.5 1348.9,571.5 1349.5,589.3 1350.2,578.4 1350.8,590.7 1351.5,588.9 1351.8,585.1 1352.1,586.0 1352.8,585.0 1353.4,573.1 1354.1,583.8 1354.7,589.3 1355.4,575.6 1355.7,576.6 1356.7,596.1 1357.3,595.6 1358.0,580.7 1358.6,595.8 1359.3,593.6 1359.6,601.4 1360.6,592.9 1361.2,593.9 1361.9,590.6 1362.5,597.3 1363.2,595.6 1363.5,592.1 1364.5,593.6 1365.1,590.4 1365.8,599.5 1366.5,587.6 1367.1,587.4 1367.7,595.3 1368.4,613.3 1369.0,606.3 1369.4,616.7 1370.3,617.0 1371.0,608.2 1371.6,616.6 1372.3,614.6 1372.9,610.6 1373.6,605.8 1374.3,609.9 1374.9,602.3 1375.5,610.2 1376.2,609.1 1376.8,617.1 1377.5,617.4 1378.2,611.8 1378.8,622.0 1379.4,624.0 1380.1,615.9 1380.7,610.1 1381.4,618.4 1382.0,597.9 1382.7,610.4 1383.1,618.3 1384.0,627.7 1384.6,608.6 1385.3,623.9 1385.9,629.2 1386.6,625.9 1387.2,596.3 1388.0,619.9 1388.5,613.5 1389.2,619.1 1389.8,610.7 1390.5,607.6 1391.1,610.1 1391.8,621.9 1392.4,617.2 1392.9,609.3 1393.7,615.0 1394.4,619.3 1395.0,618.1 1395.7,614.8 1396.3,611.5 1397.0,611.8 1397.8,615.1 1398.3,614.6 1398.9,607.9 1399.6,609.5 1400.2,625.8 1400.9,612.4 1401.5,611.5 1402.2,620.7 1402.8,631.5 1403.7,630.8 1404.1,619.5 1404.8,615.7 1405.4,619.6 1406.1,617.5 1406.7,620.5 1407.4,628.1 1408.0,617.8 1408.7,620.3 1409.6,624.6 1410.0,626.4 1410.6,621.7 1411.3,622.0 1411.9,620.1 1412.6,623.1 1413.2,632.4 1413.9,627.5 1414.5,610.7 1415.2,633.5 1415.5,629.9 1415.9,625.3 1416.5,630.1 1417.1,618.3 1417.8,625.9 1418.4,643.0 1419.1,650.2 1419.7,650.7 1420.4,635.1 1421.0,639.7 1421.7,644.1 1422.3,633.4 1423.0,650.0 1423.3,636.7 1424.3,646.2 1424.9,640.6 1425.5,651.1 1426.2,646.8 1426.9,650.9 1427.5,636.7 1428.2,641.0 1428.8,649.1 1429.7,629.9 1430.1,639.9 1430.8,643.0 1431.4,640.4 1432.1,644.3 1432.9,656.9 1433.4,655.4 1434.0,652.2 1434.7,650.6 1435.3,642.9 1436.1,649.6 1436.6,661.1 1437.3,659.6 1438.2,650.1 1438.6,646.4 1439.2,654.5 1439.9,659.3 1440.5,656.8 1441.2,658.0 1441.8,660.6 1442.4,662.9 1443.1,661.8 1443.8,666.7 1444.4,658.7 1445.1,666.6 1445.6,667.6 1446.4,660.9 1447.0,670.5 1447.7,660.5 1448.3,661.0 1449.0,675.4 1449.9,670.6 1450.3,668.2 1450.9,672.9 1451.6,673.5 1452.2,666.8 1453.0,674.2 1453.5,677.6 1454.2,672.6 1454.8,673.8 1455.5,673.2 1456.1,675.4 1456.8,673.8 1457.4,674.2 1458.1,673.6 1458.4,674.2 1458.7,675.9 1459.4,676.2 1460.0,674.7 1460.7,673.6 1461.3,675.6 1462.0,675.5 1462.6,676.7 1463.3,673.9 1463.7,674.0 1464.6,675.7 1465.2,677.5 1465.9,675.4 1466.5,675.6 1467.2,674.6 1467.9,675.7 1468.5,676.8 1469.1,675.6 1469.8,674.9 1470.4,669.7 1471.1,672.3 1471.7,668.6 1472.1,670.2 1473.0,666.6 1473.7,670.6 1474.3,670.1 1475.0,674.0 1475.3,672.6 1476.3,674.1 1476.9,671.2 1477.6,674.5 1478.2,670.6 1478.9,673.9 1479.5,670.1 1480.2,669.0 1480.6,671.7 1481.5,669.6 1482.1,670.0 1482.8,668.0 1483.4,669.4 1484.1,669.9 1484.7,668.6 1485.4,670.1 1486.0,666.0 1486.7,670.7 1487.0,668.7 1487.3,671.5 1488.0,668.7 1488.6,668.1 1489.3,668.4 1489.9,669.4 1490.6,669.8 1491.2,668.2 1491.9,667.6 1492.5,669.4 1493.4,669.9 1493.8,665.8 1494.5,666.6 1495.1,666.9 1495.8,670.3 1496.4,669.3 1497.1,668.4 1497.7,667.7 1498.4,665.0 1499.0,668.1 1499.7,665.4 1500.3,664.6 1501.0,668.4 1501.6,662.9 1502.3,666.8 1502.9,664.7 1503.6,664.0 1504.2,666.6 1504.9,666.1 1505.5,668.7 1506.1,668.3 1506.8,666.6 1507.5,671.6 1508.1,666.0 1508.8,667.5 1509.4,665.1 1510.3,665.0 1510.7,661.9 1511.4,662.0 1512.0,659.3 1512.7,664.6 1513.3,663.5 1514.0,660.7 1514.6,663.5 1515.3,662.9 1515.6,665.9 1516.6,661.4 1517.2,661.9 1517.9,660.9 1518.5,660.6 1519.2,658.8 1519.9,657.6 1520.5,659.8 1521.1,661.2 1521.8,658.1 1522.4,658.7 1523.1,660.9 1523.7,664.2 1524.1,661.5 1525.0,660.6 1525.7,665.4 1526.3,666.3 1527.0,669.0 1527.6,667.4 1528.4,671.2 1528.9,666.9 1529.6,669.0 1530.2,667.5 1530.9,665.2 1531.5,666.2 1532.2,668.4 1532.6,667.8 1533.5,665.1 1534.1,667.0 1534.8,666.4 1535.4,666.1 1536.1,664.8 1536.7,664.5 1537.4,662.5 1538.0,663.3 1538.7,663.3 1539.0,661.8 1539.3,662.6 1540.0,663.6 1540.6,663.9 1541.3,665.4 1541.9,662.5 1542.6,663.7 1543.2,665.0 1543.9,664.3 1544.3,665.5 1545.2,664.8 1545.8,667.6 1546.5,665.8 1547.1,664.7 1547.8,667.9 1548.4,669.6 1549.1,664.5 1549.7,667.6 1550.4,668.2 1550.7,669.8 1551.0,670.3 1551.7,667.3 1552.3,664.8 1553.0,667.7 1553.6,667.8 1554.3,666.5 1554.9,665.5 1555.6,663.7 1556.2,668.2 1557.0,662.2 1557.5,661.7 1558.2,665.5 1558.8,664.4 1559.5,665.0 1560.1,664.5 1560.8,666.5 1561.4,666.1 1562.1,663.1 1562.7,665.5 1563.4,662.2 1564.0,661.5 1564.7,666.0 1565.3,663.6 1566.0,661.2 1566.6,664.5 1567.3,663.6 1567.9,665.5 1568.6,664.8 1569.2,663.8 1569.7,664.0 1570.5,666.2 1571.2,663.6 1571.8,665.2 1572.5,663.5 1573.1,665.7 1573.8,667.7 1574.4,665.9 1575.1,666.7 1575.7,665.7 1576.1,663.6 1577.0,664.4 1577.7,664.8 1578.3,665.2 1579.0,663.4 1579.6,665.1 1580.4,662.9 1580.9,664.5 1581.6,664.9 1582.2,663.7 1582.9,667.5 1583.5,666.6 1584.2,667.2 1584.8,667.5 1585.7,665.0 1586.1,665.8 1586.8,666.0 1587.4,668.3 1588.1,665.4 1588.7,666.7 1589.4,663.7 1590.0,663.5 1590.7,663.5 1591.0,665.6 1591.3,661.1 1592.0,662.7 1592.6,663.0 1593.3,661.9 1593.9,661.0 1594.6,661.6 1595.2,660.2 1595.9,657.2 1596.5,658.6 1597.2,655.3 1597.8,654.9 1598.5,656.5 1599.0,657.1 1599.8,656.8 1600.4,656.4 1601.1,655.8 1601.7,656.9 1602.6,662.3 1603.0,660.7 1603.7,658.9 1604.3,664.2 1605.0,663.5 1605.6,665.4 1606.3,664.9 1606.9,661.8 1607.6,664.3 1608.2,665.6 1608.9,666.0 1609.5,668.9 1610.2,666.0 1610.8,667.2 1611.5,667.7 1612.2,668.1 1612.8,666.8 1613.4,666.6 1614.1,664.7 1614.7,669.2 1615.4,668.6 1616.0,669.3 1616.7,667.5 1617.5,669.3 1618.0,667.5 1618.6,667.0 1619.3,668.6 1619.9,668.6 1620.7,668.0 1621.2,667.6 1621.9,667.8 1622.5,671.1 1623.2,671.5 1623.8,669.3 1624.5,669.3 1624.9,672.0 1625.8,671.9 1626.4,670.0 1627.1,674.9 1627.7,668.2 1628.4,670.1 1629.0,671.8 1629.7,672.9 1630.3,668.6 1631.0,670.7 1631.3,673.6 1631.6,673.6 1632.3,671.3 1632.9,671.9 1633.6,670.6 1634.2,672.7 1634.9,670.7 1635.5,669.4 1636.2,669.6 1636.8,671.4 1637.5,668.7 1638.1,671.8 1638.8,671.5 1639.4,670.5 1639.8,669.6 1640.7,671.0 1641.4,670.1 1642.0,671.4 1642.7,671.2 1643.3,672.1 1644.0,669.9 1644.6,670.5 1645.3,670.1 1645.9,673.0 1646.6,672.6 1647.2,670.7 1647.9,670.6 1648.5,671.3 1649.2,673.6 1649.8,672.2 1650.4,672.1 1651.1,671.8 1651.8,673.0 1652.4,675.9 1653.1,672.8 1653.7,673.6 1654.4,677.0 1655.0,675.9 1655.7,673.4 1656.3,677.1 1656.7,673.7 1657.6,676.6 1658.3,672.1 1658.9,674.5 1659.6,677.5 1660.2,675.3 1660.9,675.2 1661.5,676.5 1662.2,676.6 1662.8,676.0 1663.1,675.7 1663.5,679.3 1664.1,678.6 1664.8,676.7 1665.4,674.2 1666.1,674.9 1666.7,675.1 1667.4,676.0 1668.0,677.5 1668.7,674.1 1669.5,674.8 1670.0,674.1 1670.6,675.1 1671.3,674.0 1671.9,675.8 1672.6,677.2 1673.2,675.0 1673.9,675.3 1674.5,676.1 1675.2,674.1 1675.8,679.0 1676.5,674.1 1677.1,675.4 1677.8,674.4 1678.4,677.9 1679.1,674.7 1679.7,674.5 1680.4,677.9 1681.0,674.7 1681.7,673.6 1682.2,674.6 1683.0,675.1 1683.6,673.9 1684.3,675.0 1684.9,675.2 1685.6,676.8 1686.2,677.1 1686.9,677.4 1687.5,676.2 1688.2,677.8 1688.6,676.4 1689.5,678.5 1690.1,677.4 1690.8,676.2 1691.4,678.7 1692.1,674.6 1692.7,675.5 1693.4,675.7 1694.0,676.8 1694.7,675.2 1695.3,675.2 1696.0,674.2 1696.6,677.3 1697.1,676.0 1697.9,680.5 1698.6,678.5 1699.2,675.6 1699.9,679.4 1700.5,677.5 1701.2,677.9 1701.8,677.3 1702.5,678.0 1703.1,678.1 1703.4,677.7 1703.8,677.8 1704.4,678.4 1705.1,679.1 1705.7,680.2 1706.4,680.5 1707.0,680.9 1707.7,680.9 1708.3,681.2 1709.0,681.7 1709.6,681.8 1710.3,682.1 1710.9,682.5 1711.6,683.1 1711.9,683.1 1712.9,683.5 1713.5,683.5 1714.2,683.8 1714.8,684.0 1715.5,684.7 1716.2,684.6 1716.8,685.0 1717.4,684.5 1718.1,684.9 1718.7,684.2 1719.4,684.5 1720.0,684.6 1720.7,684.4 1721.3,684.6 1722.0,684.3 1722.6,684.6 1723.3,684.4 1723.9,684.6 1724.6,684.5 1725.2,684.3 1725.9,684.5 1726.5,684.7 1727.2,684.3 1727.8,684.7 1728.5,685.0 1729.1,684.6 1729.8,684.8 1730.4,684.9 1731.1,684.4 1731.7,685.1 1732.4,685.5 1733.0,684.4 1733.7,685.4 1734.3,684.5 1735.0,685.2 1735.6,684.2 1736.3,685.1 1736.9,684.8 1737.6,684.4 1738.2,684.5 1738.9,684.4 1739.5,684.7 1740.2,684.9 1740.8,684.7 1741.5,684.0 1742.1,684.7 1742.8,684.9 1743.4,684.8 1744.1,685.3 1744.7,684.2 1745.4,684.8 1746.0,684.8 1746.7,685.0 1747.3,684.4 1748.0,684.4 1748.6,684.7 1749.3,684.8 1749.9,684.2 1750.6,684.9 1751.2,684.8 1751.9,685.0 1752.5,684.0 1753.2,684.9 1753.8,684.5 1754.5,684.6 1755.1,685.0 1755.8,685.3 1756.4,684.8 1757.1,684.7 1757.7,685.2 1758.4,684.5 1759.0,684.7 1759.7,684.6 1760.3,684.5 1761.0,684.8 1761.6,685.4 1762.3,684.8 1762.9,684.9 1763.6,684.8 1764.2,685.1 1764.9,684.8 1765.5,684.5 1766.2,684.8 1766.8,685.2 1767.5,684.7 1768.1,685.1 1768.8,684.7 1769.4,685.4 1770.1,684.9 1770.7,685.0 1771.4,684.7 1772.0,685.0 1772.7,684.7 1773.3,684.3 1774.0,684.9 1774.6,684.4 1775.3,685.2 1775.9,685.0 1776.6,684.8 1777.2,685.0 1777.9,684.0 1778.5,685.2 1779.2,684.6 1779.8,685.0 1780.5,685.5 1781.1,684.3 1781.8,684.6 1782.4,684.9 1783.1,684.9 1783.7,684.3 1784.4,684.5 1785.0,685.2 1785.7,684.6 1786.0,684.9" stroke="#f00" stroke-width="2.5"/>
</g>
<g shape-rendering="crispEdges">
<rect x="1064.5" y="73.5" width="721" height="201" fill="#fff" stroke="#000" stroke-width="5"/>
<rect x="1083" y="114" width="113" height="2" fill="#f00"/>
<rect x="1083" y="176" width="113" height="3" fill="#00f"/>
<rect x="1083" y="240" width="113" height="2" fill="#0f0"/>
</g>
<text transform="translate(1208 131) scale(1.032 1.04)" font-size="47.5" text-anchor="start" xml:space="preserve">Fig. 3 (a); I(a)+ 8.0x10<tspan dy="-18.5" font-size="34">3</tspan><tspan dy="18.5"> a.u.</tspan></text>
<text transform="translate(1208 194.3) scale(1.032 1.04)" font-size="47.5" text-anchor="start" xml:space="preserve">Fig. 3 (b); I(b)+4.0x10<tspan dy="-18.5" font-size="34">3</tspan><tspan dy="18.5"> a.u.</tspan></text>
<text transform="translate(1208 256.7) scale(1.032 1.04)" font-size="47.5" text-anchor="start" xml:space="preserve">Fig. 3 (c); I(c)+0x10<tspan dy="-18.5" font-size="34">3</tspan><tspan dy="18.5"> a.u.</tspan></text>
<text transform="translate(316.2 1194.4) scale(0.985 1.042)" font-size="66" text-anchor="end" xml:space="preserve">0.0</text>
<text transform="translate(315.6 1078.971266666667) scale(0.985 1.042)" font-size="66" text-anchor="end" xml:space="preserve">2.0x10<tspan dy="-27.8" font-size="45">3</tspan></text>
<text transform="translate(315.6 956.6379333333333) scale(0.985 1.042)" font-size="66" text-anchor="end" xml:space="preserve">4.0x10<tspan dy="-27.8" font-size="45">3</tspan></text>
<text transform="translate(315.6 834.3045999999999) scale(0.985 1.042)" font-size="66" text-anchor="end" xml:space="preserve">6.0x10<tspan dy="-27.8" font-size="45">3</tspan></text>
<text transform="translate(315.6 711.9712666666667) scale(0.985 1.042)" font-size="66" text-anchor="end" xml:space="preserve">8.0x10<tspan dy="-27.8" font-size="45">3</tspan></text>
<text transform="translate(315.6 589.6379333333333) scale(0.985 1.042)" font-size="66" text-anchor="end" xml:space="preserve">1.0x10<tspan dy="-27.8" font-size="45">4</tspan></text>
<text transform="translate(315.6 467.3046) scale(0.985 1.042)" font-size="66" text-anchor="end" xml:space="preserve">1.2x10<tspan dy="-27.8" font-size="45">4</tspan></text>
<text transform="translate(315.6 344.9712666666666) scale(0.985 1.042)" font-size="66" text-anchor="end" xml:space="preserve">1.4x10<tspan dy="-27.8" font-size="45">4</tspan></text>
<text transform="translate(315.6 222.63793333333336) scale(0.985 1.042)" font-size="66" text-anchor="end" xml:space="preserve">1.6x10<tspan dy="-27.8" font-size="45">4</tspan></text>
<text transform="translate(315.6 100.30460000000001) scale(0.985 1.042)" font-size="66" text-anchor="end" xml:space="preserve">1.8x10<tspan dy="-27.8" font-size="45">4</tspan></text>
<text transform="translate(614.5 1325) scale(1 1.042)" font-size="66" text-anchor="middle" xml:space="preserve">400</text>
<text transform="translate(1134.8 1325) scale(1 1.042)" font-size="66" text-anchor="middle" xml:space="preserve">600</text>
<text transform="translate(1655.2 1325) scale(1 1.042)" font-size="66" text-anchor="middle" xml:space="preserve">800</text>
<text transform="translate(1003.2 1429.9) scale(1 1.0)" font-size="98" text-anchor="middle" letter-spacing="-0.2" xml:space="preserve">Wavelength [nm]</text>
<text transform="translate(89.5 616.2) rotate(-90) scale(1 1.0)" font-size="98" text-anchor="middle" letter-spacing="0.15">Intensity [a.u.]</text>
<text x="371.8" y="654.9" font-size="76" style="fill:#f00">(a)</text>
<text x="370.9" y="894.9" font-size="76" style="fill:#0f0">(b)</text>
<text x="371.8" y="1145.8" font-size="76" style="fill:#00f">(c)</text>
<text class="r" x="1326.5" y="415.7" font-size="62">H<tspan dy="18" font-size="49">α</tspan></text>
<text class="r" x="1580.5" y="624.3" font-size="63">O</text>
</svg></body></html>
